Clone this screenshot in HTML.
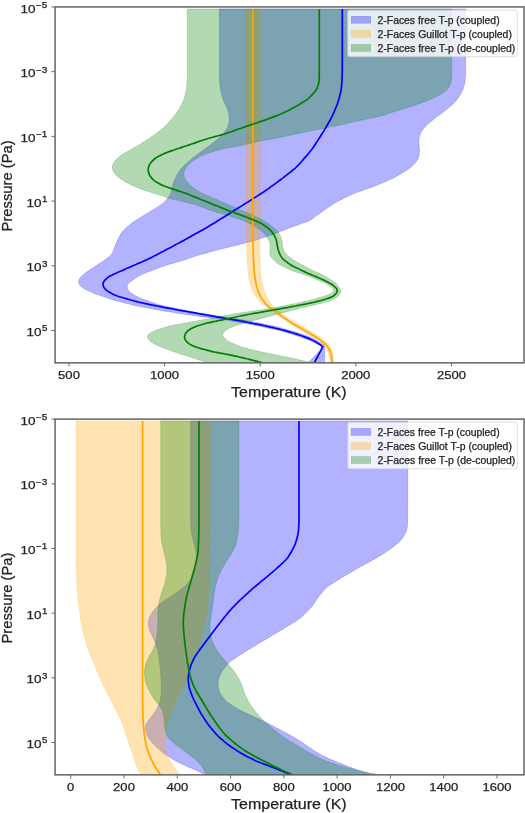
<!DOCTYPE html>
<html><head><meta charset="utf-8"><title>T-p profiles</title>
<style>
html,body{margin:0;padding:0;background:#ffffff;}
body{width:525px;height:813px;overflow:hidden;font-family:"Liberation Sans",sans-serif;}
svg{display:block;}
svg text{font-family:"Liberation Sans",sans-serif;fill:#222222;stroke:#222222;stroke-width:0.25px;}
.tx{filter:blur(0.3px);}
</style></head>
<body>
<svg width="525" height="813" viewBox="0 0 525 813">
<rect x="0" y="0" width="525" height="813" fill="#ffffff"/>
<clipPath id="ct"><rect x="55.05" y="6.95" width="469.00" height="355.90"/></clipPath>
<g clip-path="url(#ct)">
<path d="M219.3,9.0 C219.3,9.6 219.3,11.3 219.3,12.5 C219.3,13.7 219.3,14.8 219.3,16.0 C219.3,17.2 219.3,18.3 219.3,19.5 C219.3,20.7 219.3,21.8 219.3,23.0 C219.3,24.2 219.3,25.3 219.3,26.5 C219.3,27.7 219.3,28.9 219.3,30.0 C219.3,31.2 219.3,32.4 219.3,33.5 C219.3,34.7 219.3,35.8 219.3,37.0 C219.3,38.3 219.3,39.8 219.3,41.0 C219.3,42.3 219.3,43.4 219.3,44.5 C219.3,45.7 219.3,46.9 219.3,48.0 C219.3,49.2 219.3,50.4 219.3,51.5 C219.3,52.7 219.3,53.9 219.3,55.0 C219.3,56.2 219.3,57.4 219.3,58.5 C219.3,59.7 219.3,60.9 219.3,62.0 C219.3,63.2 219.3,64.4 219.3,65.5 C219.3,66.7 219.3,67.9 219.3,69.1 C219.3,70.2 219.3,71.4 219.3,72.6 C219.3,73.7 219.3,74.9 219.3,76.1 C219.3,77.2 219.4,78.4 219.4,79.6 C219.5,80.7 219.6,81.9 219.7,83.0 C219.8,84.2 219.9,85.4 220.1,86.5 C220.3,87.7 220.4,88.8 220.6,90.0 C220.9,91.1 221.1,92.3 221.4,93.4 C221.6,94.5 221.9,95.6 222.3,96.8 C222.6,98.0 223.1,99.4 223.5,100.5 C224.0,101.7 224.5,102.7 225.0,103.7 C225.4,104.8 226.0,105.8 226.5,106.9 C226.9,107.9 227.4,109.0 227.7,110.1 C228.1,111.2 228.4,112.3 228.6,113.5 C228.8,114.6 229.0,115.8 229.1,116.9 C229.2,118.1 229.3,119.2 229.2,120.4 C229.1,121.5 228.9,122.6 228.7,123.7 C228.4,124.9 228.0,125.9 227.5,127.0 C227.1,128.0 226.5,129.0 225.9,130.0 C225.2,131.0 224.6,131.9 223.8,132.8 C223.1,133.8 222.4,134.7 221.6,135.5 C220.8,136.4 220.0,137.1 219.1,137.9 C218.2,138.7 217.3,139.4 216.4,140.1 C215.5,140.9 214.6,141.6 213.7,142.3 C212.7,143.0 211.8,143.8 210.9,144.5 C210.0,145.2 209.1,145.8 208.1,146.6 C207.1,147.3 205.9,148.2 204.9,148.9 C203.8,149.7 203.0,150.3 202.0,151.0 C201.1,151.7 200.1,152.4 199.2,153.0 C198.3,153.7 197.3,154.5 196.4,155.2 C195.5,155.9 194.6,156.6 193.6,157.3 C192.7,158.0 191.8,158.8 190.9,159.5 C190.0,160.3 189.1,161.0 188.3,161.8 C187.4,162.6 186.5,163.3 185.7,164.1 C184.8,164.9 184.0,165.7 183.2,166.6 C182.4,167.4 181.6,168.3 180.9,169.2 C180.1,170.1 179.4,171.0 178.7,172.0 C178.1,172.9 177.5,173.9 176.9,174.9 C176.3,175.9 175.8,177.0 175.4,178.1 C174.9,179.1 174.4,180.2 174.0,181.3 C173.6,182.4 173.3,183.5 173.0,184.6 C172.6,185.7 172.4,186.9 172.1,188.0 C171.8,189.1 171.7,190.2 171.4,191.4 C171.0,192.5 170.5,193.9 170.0,194.9 C169.4,196.0 168.7,196.8 168.0,197.7 C167.3,198.6 166.5,199.5 165.7,200.4 C164.9,201.2 164.1,202.1 163.3,202.9 C162.4,203.6 161.5,204.3 160.5,205.0 C159.6,205.7 158.6,206.3 157.6,206.9 C156.6,207.5 155.6,208.1 154.6,208.8 C153.7,209.4 152.7,210.0 151.7,210.6 C150.7,211.2 149.7,211.9 148.7,212.5 C147.7,213.1 146.7,213.7 145.7,214.3 C144.7,214.9 143.7,215.5 142.7,216.1 C141.7,216.7 140.7,217.3 139.7,217.9 C138.7,218.5 137.7,219.1 136.7,219.7 C135.7,220.3 134.7,220.9 133.8,221.6 C132.8,222.3 131.9,223.0 131.0,223.7 C130.1,224.5 129.2,225.2 128.3,226.0 C127.4,226.7 126.6,227.4 125.7,228.3 C124.8,229.1 123.7,230.1 122.9,231.1 C122.0,232.0 121.4,232.9 120.8,233.8 C120.2,234.8 119.7,235.8 119.2,236.9 C118.6,237.9 118.1,239.0 117.6,240.0 C117.1,241.1 116.6,242.1 116.2,243.2 C115.7,244.3 115.3,245.4 114.9,246.5 C114.4,247.5 114.1,248.7 113.6,249.7 C113.2,250.8 112.8,251.9 112.2,252.9 C111.7,253.8 111.0,254.8 110.3,255.6 C109.5,256.4 108.6,257.1 107.7,257.8 C106.8,258.5 105.8,259.2 104.8,259.9 C103.9,260.5 102.9,261.2 102.0,261.9 C101.0,262.5 100.1,263.2 99.1,263.8 C98.1,264.5 97.1,265.1 96.1,265.7 C95.2,266.4 94.2,267.0 93.2,267.6 C92.2,268.2 91.2,268.8 90.2,269.5 C89.3,270.1 88.3,270.7 87.3,271.5 C86.3,272.2 85.2,273.1 84.2,273.9 C83.3,274.7 82.4,275.5 81.6,276.2 C80.8,277.0 79.9,277.8 79.4,278.7 C78.9,279.5 78.5,280.4 78.5,281.4 C78.5,282.3 78.9,283.4 79.4,284.3 C79.8,285.2 80.6,286.1 81.4,286.8 C82.2,287.6 83.2,288.1 84.2,288.7 C85.1,289.3 86.2,289.8 87.3,290.3 C88.3,290.8 89.4,291.3 90.4,291.8 C91.5,292.3 92.5,292.8 93.6,293.2 C94.7,293.7 95.8,294.1 96.9,294.5 C98.0,294.9 99.1,295.2 100.2,295.6 C101.3,296.0 102.4,296.4 103.5,296.7 C104.6,297.1 105.7,297.5 106.8,297.8 C107.9,298.2 109.0,298.6 110.2,298.9 C111.3,299.3 112.4,299.6 113.5,300.0 C114.6,300.3 115.7,300.6 116.9,300.9 C118.1,301.2 119.5,301.6 120.8,301.9 C122.0,302.2 123.0,302.5 124.1,302.8 C125.3,303.1 126.4,303.4 127.5,303.7 C128.7,303.9 129.8,304.2 130.9,304.5 C132.1,304.8 133.2,305.1 134.3,305.4 C135.5,305.6 136.6,305.9 137.7,306.1 C138.9,306.4 140.0,306.6 141.2,306.8 C142.3,307.1 143.5,307.3 144.6,307.5 C145.8,307.7 146.9,307.9 148.1,308.1 C149.2,308.4 150.4,308.6 151.5,308.8 C152.7,309.0 153.8,309.2 154.9,309.4 C156.1,309.6 157.2,309.9 158.4,310.1 C159.5,310.3 160.7,310.5 161.8,310.7 C163.0,310.9 164.1,311.1 165.3,311.3 C166.4,311.5 167.6,311.6 168.8,311.8 C169.9,312.0 171.1,312.2 172.2,312.3 C173.4,312.5 174.4,312.7 175.7,312.9 C176.9,313.0 178.4,313.3 179.6,313.4 C180.9,313.6 181.9,313.8 183.1,314.0 C184.3,314.1 185.4,314.3 186.6,314.5 C187.7,314.7 188.9,314.8 190.0,315.0 C191.2,315.2 192.3,315.3 193.5,315.5 C194.7,315.6 195.8,315.8 197.0,316.0 C198.1,316.1 199.3,316.3 200.4,316.4 C201.6,316.6 202.8,316.7 203.9,316.9 C205.1,317.1 206.2,317.2 207.4,317.4 C208.5,317.5 209.7,317.7 210.9,317.9 C212.0,318.0 213.2,318.2 214.3,318.3 C215.5,318.5 216.6,318.7 217.8,318.8 C219.0,319.0 220.1,319.1 221.3,319.3 C222.4,319.5 223.6,319.6 224.7,319.8 C225.9,320.0 227.0,320.2 228.2,320.4 C229.3,320.6 230.5,320.8 231.6,321.0 C232.8,321.2 233.9,321.4 235.1,321.6 C236.3,321.8 237.8,322.1 239.0,322.3 C240.3,322.6 241.3,322.8 242.5,323.0 C243.6,323.2 244.8,323.4 245.9,323.6 C247.1,323.8 248.2,324.1 249.3,324.3 C250.5,324.5 251.6,324.7 252.8,324.9 C253.9,325.1 255.1,325.4 256.2,325.6 C257.4,325.8 258.5,326.0 259.7,326.3 C260.8,326.5 262.0,326.7 263.1,327.0 C264.2,327.2 265.4,327.5 266.5,327.7 C267.7,328.0 268.8,328.2 269.9,328.5 C271.1,328.7 272.2,329.0 273.4,329.2 C274.5,329.5 275.6,329.7 276.8,330.0 C277.9,330.3 279.1,330.5 280.2,330.8 C281.3,331.1 282.4,331.4 283.6,331.8 C284.7,332.1 285.8,332.4 286.9,332.7 C288.0,333.1 289.2,333.4 290.3,333.7 C291.4,334.1 292.4,334.4 293.6,334.7 C294.8,335.1 296.3,335.5 297.4,335.9 C298.6,336.3 299.6,336.7 300.7,337.1 C301.8,337.5 302.9,337.9 304.0,338.4 C305.1,338.8 306.2,339.2 307.3,339.6 C308.4,340.0 309.5,340.5 310.5,340.9 C311.6,341.4 312.6,341.9 313.7,342.4 C314.7,342.9 315.8,343.5 316.8,344.0 C317.9,344.5 318.9,345.0 320.0,345.4 C321.1,345.8 325.3,343.7 323.3,346.6 C321.3,349.5 310.6,360.3 308.0,363.0 L324.6,363.0 C324.6,360.2 325.0,349.5 324.5,346.4 C324.0,343.3 322.8,344.8 321.9,344.1 C321.0,343.4 320.0,342.7 319.0,342.1 C318.1,341.4 317.1,340.8 316.1,340.2 C315.1,339.6 314.1,339.0 313.0,338.5 C312.0,338.0 310.9,337.5 309.9,337.1 C308.8,336.6 307.7,336.2 306.6,335.8 C305.5,335.4 304.4,335.0 303.3,334.6 C302.2,334.2 301.1,333.8 300.0,333.4 C298.9,333.1 297.8,332.7 296.7,332.3 C295.6,332.0 294.5,331.6 293.3,331.3 C292.2,331.0 291.1,330.7 290.0,330.3 C288.8,330.0 287.7,329.7 286.6,329.4 C285.5,329.1 284.4,328.7 283.2,328.4 C282.1,328.1 281.1,327.8 279.8,327.5 C278.6,327.2 277.2,326.9 276.0,326.6 C274.7,326.3 273.7,326.1 272.5,325.8 C271.4,325.6 270.3,325.3 269.1,325.1 C268.0,324.8 266.8,324.5 265.7,324.3 C264.6,324.0 263.4,323.8 262.3,323.5 C261.1,323.3 260.0,323.0 258.9,322.8 C257.7,322.6 256.6,322.4 255.4,322.2 C254.3,321.9 253.1,321.7 252.0,321.5 C250.8,321.3 249.7,321.1 248.5,320.9 C247.4,320.7 246.2,320.5 245.1,320.2 C243.9,320.0 242.8,319.8 241.6,319.6 C240.5,319.4 239.3,319.3 238.2,319.1 C237.0,318.9 235.9,318.8 234.7,318.6 C233.5,318.4 232.4,318.3 231.2,318.1 C230.1,318.0 228.9,317.8 227.8,317.7 C226.6,317.5 225.5,317.3 224.3,317.1 C223.1,316.9 222.0,316.7 220.8,316.5 C219.7,316.3 218.6,316.1 217.4,315.9 C216.3,315.7 215.1,315.5 214.0,315.3 C212.8,315.1 211.7,314.9 210.5,314.7 C209.4,314.5 208.2,314.3 207.1,314.1 C205.9,313.9 204.8,313.7 203.6,313.5 C202.5,313.3 201.3,313.1 200.2,312.9 C199.0,312.7 197.9,312.5 196.7,312.3 C195.6,312.1 194.4,311.9 193.2,311.7 C192.1,311.5 190.9,311.3 189.8,311.1 C188.6,310.9 187.5,310.7 186.3,310.5 C185.2,310.3 184.1,310.1 182.9,309.9 C181.7,309.6 180.2,309.3 179.0,309.1 C177.8,308.8 176.7,308.6 175.6,308.3 C174.4,308.1 173.3,307.8 172.1,307.6 C171.0,307.4 169.8,307.1 168.7,306.9 C167.6,306.6 166.4,306.4 165.3,306.1 C164.1,305.9 163.0,305.6 161.9,305.3 C160.7,305.1 159.6,304.8 158.5,304.4 C157.4,304.1 156.3,303.7 155.2,303.4 C154.0,303.0 152.9,302.6 151.8,302.3 C150.7,301.9 149.6,301.5 148.5,301.2 C147.4,300.8 146.3,300.4 145.2,300.0 C144.1,299.6 143.0,299.3 141.9,298.8 C140.8,298.4 139.8,298.0 138.7,297.4 C137.7,296.9 136.6,296.4 135.6,295.8 C134.6,295.3 133.6,294.7 132.6,294.1 C131.6,293.5 130.6,292.9 129.9,292.1 C129.1,291.3 128.4,290.5 127.9,289.5 C127.5,288.6 127.1,287.5 127.2,286.6 C127.2,285.7 127.6,284.8 128.1,284.0 C128.7,283.2 129.7,282.5 130.5,281.8 C131.4,281.1 132.4,280.4 133.4,279.7 C134.3,279.1 135.2,278.4 136.2,277.7 C137.2,277.1 138.1,276.4 139.1,275.8 C140.1,275.3 141.2,274.7 142.2,274.3 C143.3,273.8 144.4,273.4 145.5,273.0 C146.6,272.5 147.7,272.1 148.8,271.7 C149.8,271.3 150.9,270.9 152.0,270.5 C153.1,270.1 154.2,269.7 155.3,269.3 C156.4,268.9 157.4,268.5 158.6,268.0 C159.8,267.6 161.2,267.1 162.3,266.6 C163.5,266.2 164.5,265.8 165.6,265.5 C166.7,265.1 167.9,264.7 169.0,264.4 C170.1,264.1 171.2,263.8 172.3,263.4 C173.5,263.1 174.6,262.8 175.7,262.5 C176.8,262.2 178.0,261.9 179.1,261.5 C180.2,261.2 181.3,260.8 182.4,260.5 C183.5,260.1 184.6,259.8 185.8,259.4 C186.9,259.0 188.0,258.7 189.1,258.3 C190.2,257.9 191.3,257.6 192.4,257.2 C193.5,256.9 194.6,256.5 195.7,256.1 C196.9,255.8 198.0,255.4 199.1,255.1 C200.2,254.8 201.3,254.4 202.5,254.1 C203.6,253.8 204.7,253.5 205.8,253.2 C206.9,252.8 208.1,252.5 209.2,252.2 C210.3,251.9 211.4,251.5 212.6,251.2 C213.7,250.9 214.8,250.6 215.9,250.3 C217.1,250.0 218.2,249.7 219.3,249.5 C220.5,249.2 221.6,248.9 222.7,248.6 C223.9,248.3 225.0,248.1 226.1,247.8 C227.3,247.5 228.4,247.2 229.5,246.9 C230.7,246.6 231.8,246.4 232.9,246.1 C234.1,245.8 235.2,245.5 236.3,245.2 C237.5,245.0 238.6,244.7 239.7,244.4 C240.9,244.1 242.0,243.8 243.1,243.5 C244.3,243.2 245.4,243.0 246.5,242.7 C247.6,242.4 248.8,242.1 249.9,241.8 C251.0,241.5 252.2,241.2 253.3,240.9 C254.4,240.6 255.5,240.3 256.6,239.9 C257.8,239.5 259.3,239.0 260.5,238.6 C261.6,238.3 262.7,237.9 263.8,237.5 C264.9,237.2 266.0,236.8 267.1,236.4 C268.2,236.1 269.3,235.7 270.4,235.3 C271.5,234.9 272.6,234.6 273.7,234.2 C274.8,233.8 275.9,233.3 277.0,232.9 C278.1,232.5 279.2,232.0 280.2,231.6 C281.3,231.2 282.4,230.7 283.5,230.3 C284.6,229.9 285.7,229.4 286.7,229.0 C287.8,228.6 288.9,228.1 290.0,227.7 C291.1,227.3 292.2,226.9 293.3,226.5 C294.4,226.1 295.5,225.7 296.6,225.4 C297.7,225.0 298.8,224.6 299.9,224.3 C301.0,223.9 302.1,223.5 303.2,223.1 C304.3,222.8 305.5,222.4 306.5,222.0 C307.6,221.6 308.7,221.1 309.7,220.6 C310.7,220.0 311.7,219.4 312.6,218.7 C313.6,218.1 314.5,217.3 315.4,216.6 C316.3,215.9 317.2,215.2 318.2,214.5 C319.1,213.8 320.0,213.1 321.0,212.4 C321.9,211.7 322.9,211.0 323.8,210.4 C324.8,209.7 325.7,209.0 326.7,208.4 C327.7,207.7 328.6,207.0 329.6,206.4 C330.6,205.7 331.5,205.1 332.5,204.5 C333.5,203.8 334.5,203.3 335.5,202.7 C336.6,202.1 337.6,201.6 338.6,201.0 C339.7,200.5 340.7,199.9 341.7,199.4 C342.7,198.8 343.7,198.3 344.8,197.7 C345.9,197.2 347.3,196.5 348.4,195.9 C349.5,195.4 350.5,195.0 351.6,194.5 C352.7,194.1 353.7,193.7 354.8,193.3 C355.9,192.9 357.0,192.5 358.1,192.1 C359.2,191.7 360.3,191.3 361.4,190.9 C362.5,190.5 363.6,190.1 364.7,189.7 C365.8,189.4 366.9,189.0 368.0,188.6 C369.1,188.2 370.2,187.8 371.3,187.4 C372.4,187.0 373.5,186.5 374.6,186.1 C375.7,185.7 376.8,185.2 377.8,184.8 C378.9,184.3 380.0,183.9 381.1,183.4 C382.1,183.0 383.2,182.5 384.3,182.1 C385.4,181.6 386.5,181.2 387.5,180.7 C388.6,180.3 389.7,179.8 390.7,179.3 C391.8,178.8 392.9,178.3 393.9,177.8 C394.9,177.3 395.9,176.7 396.9,176.1 C397.9,175.5 398.9,174.9 400.0,174.3 C401.0,173.7 402.0,173.1 403.0,172.5 C404.0,171.9 405.0,171.3 406.0,170.7 C406.9,170.1 407.9,169.5 408.9,168.8 C409.8,168.1 410.7,167.4 411.6,166.6 C412.4,165.8 413.3,165.0 414.1,164.2 C414.9,163.4 415.7,162.5 416.4,161.6 C417.1,160.7 417.6,159.8 418.1,158.7 C418.5,157.7 418.8,156.6 419.0,155.5 C419.2,154.4 419.4,153.2 419.5,152.0 C419.6,150.9 419.6,149.7 419.5,148.6 C419.4,147.5 419.2,146.3 419.1,145.2 C418.9,144.0 418.8,143.0 418.8,141.7 C418.8,140.5 419.0,139.0 419.2,137.8 C419.4,136.6 419.7,135.6 420.1,134.5 C420.5,133.4 421.0,132.4 421.6,131.4 C422.2,130.5 422.9,129.5 423.6,128.6 C424.3,127.7 425.1,126.8 425.9,126.0 C426.7,125.1 427.5,124.4 428.4,123.6 C429.3,122.8 430.2,122.1 431.1,121.4 C432.0,120.6 432.9,119.9 433.8,119.2 C434.8,118.5 435.7,117.8 436.6,117.1 C437.5,116.4 438.5,115.7 439.4,115.0 C440.3,114.2 441.3,113.6 442.2,112.9 C443.1,112.1 444.1,111.4 445.0,110.7 C445.9,110.0 446.8,109.3 447.7,108.5 C448.6,107.8 449.5,107.0 450.4,106.2 C451.2,105.4 452.1,104.7 453.0,103.9 C453.8,103.1 454.6,102.3 455.4,101.4 C456.2,100.6 456.9,99.7 457.6,98.7 C458.3,97.8 459.0,96.8 459.6,95.8 C460.2,94.9 460.8,93.9 461.4,92.8 C461.9,91.8 462.4,90.7 462.8,89.7 C463.2,88.6 463.6,87.5 463.9,86.4 C464.3,85.3 464.5,84.1 464.7,83.0 C465.0,81.9 465.1,80.7 465.2,79.5 C465.4,78.4 465.4,77.2 465.5,76.0 C465.6,74.9 465.6,73.7 465.6,72.5 C465.7,71.4 465.7,70.2 465.7,69.0 C465.7,67.9 465.7,66.7 465.7,65.5 C465.7,64.4 465.7,63.3 465.7,62.0 C465.7,60.8 465.7,59.3 465.7,58.0 C465.7,56.8 465.7,55.7 465.7,54.5 C465.7,53.4 465.7,52.2 465.7,51.0 C465.7,49.9 465.7,48.7 465.7,47.5 C465.7,46.4 465.7,45.2 465.7,44.0 C465.7,42.9 465.7,41.7 465.7,40.5 C465.7,39.4 465.7,38.2 465.7,37.0 C465.7,35.9 465.7,34.7 465.7,33.5 C465.7,32.4 465.7,31.2 465.7,30.0 C465.7,28.8 465.7,27.7 465.7,26.5 C465.7,25.3 465.7,24.2 465.7,23.0 C465.7,21.8 465.7,20.7 465.7,19.5 C465.7,18.3 465.7,17.2 465.7,16.0 C465.7,14.8 465.7,13.7 465.7,12.5 C465.7,11.3 465.7,9.6 465.7,9.0 Z" fill="#0000ff" fill-opacity="0.3" fill-rule="evenodd" stroke="#0000ff" stroke-opacity="0.3" stroke-width="0.6"/>
<path d="M246.3,9.0 C246.3,9.6 246.3,11.3 246.3,12.5 C246.3,13.7 246.3,14.8 246.3,16.0 C246.3,17.2 246.3,18.4 246.3,19.5 C246.3,20.7 246.3,21.9 246.3,23.0 C246.3,24.2 246.3,25.4 246.3,26.5 C246.3,27.7 246.3,28.9 246.3,30.1 C246.3,31.2 246.3,32.3 246.3,33.6 C246.3,34.8 246.3,36.3 246.3,37.6 C246.3,38.8 246.3,39.9 246.3,41.1 C246.3,42.2 246.3,43.4 246.3,44.6 C246.3,45.8 246.3,46.9 246.3,48.1 C246.3,49.3 246.3,50.4 246.3,51.6 C246.3,52.8 246.3,53.9 246.3,55.1 C246.3,56.3 246.3,57.5 246.3,58.6 C246.3,59.8 246.3,61.0 246.3,62.1 C246.3,63.3 246.3,64.5 246.3,65.6 C246.3,66.8 246.3,68.0 246.3,69.1 C246.3,70.3 246.3,71.5 246.3,72.7 C246.3,73.8 246.3,75.0 246.3,76.2 C246.3,77.3 246.3,78.5 246.3,79.7 C246.3,80.8 246.3,82.0 246.3,83.2 C246.3,84.3 246.3,85.5 246.3,86.7 C246.3,87.9 246.3,88.9 246.3,90.2 C246.3,91.5 246.3,93.0 246.3,94.2 C246.3,95.5 246.3,96.5 246.3,97.7 C246.3,98.9 246.3,100.1 246.3,101.2 C246.3,102.4 246.3,103.6 246.3,104.7 C246.3,105.9 246.3,107.1 246.3,108.2 C246.3,109.4 246.3,110.6 246.3,111.7 C246.3,112.9 246.3,114.1 246.3,115.3 C246.3,116.4 246.3,117.6 246.3,118.8 C246.3,119.9 246.3,121.1 246.3,122.3 C246.3,123.4 246.3,124.6 246.3,125.8 C246.3,127.0 246.3,128.1 246.3,129.3 C246.3,130.5 246.3,131.6 246.3,132.8 C246.3,134.0 246.4,135.1 246.4,136.3 C246.4,137.5 246.4,138.6 246.4,139.8 C246.4,141.0 246.4,142.2 246.4,143.3 C246.4,144.5 246.4,145.6 246.4,146.8 C246.4,148.1 246.4,149.6 246.4,150.8 C246.4,152.1 246.4,153.2 246.4,154.4 C246.4,155.5 246.4,156.7 246.4,157.9 C246.4,159.0 246.4,160.2 246.4,161.4 C246.4,162.5 246.4,163.7 246.4,164.9 C246.4,166.0 246.4,167.2 246.4,168.4 C246.4,169.6 246.4,170.7 246.4,171.9 C246.4,173.1 246.4,174.2 246.4,175.4 C246.4,176.6 246.4,177.7 246.4,178.9 C246.4,180.1 246.4,181.3 246.4,182.4 C246.4,183.6 246.4,184.8 246.4,185.9 C246.4,187.1 246.4,188.3 246.4,189.4 C246.4,190.6 246.4,191.8 246.4,192.9 C246.4,194.1 246.4,195.3 246.4,196.5 C246.4,197.6 246.4,198.8 246.4,200.0 C246.4,201.1 246.4,202.2 246.4,203.5 C246.4,204.7 246.5,206.2 246.5,207.5 C246.5,208.7 246.5,209.8 246.5,211.0 C246.5,212.2 246.5,213.3 246.5,214.5 C246.5,215.7 246.5,216.8 246.5,218.0 C246.5,219.2 246.5,220.3 246.5,221.5 C246.5,222.7 246.5,223.9 246.5,225.0 C246.5,226.2 246.5,227.4 246.5,228.5 C246.5,229.7 246.5,230.9 246.5,232.0 C246.5,233.2 246.5,234.4 246.5,235.5 C246.5,236.7 246.5,237.9 246.5,239.1 C246.5,240.2 246.5,241.4 246.6,242.6 C246.6,243.7 246.6,244.9 246.6,246.1 C246.7,247.2 246.7,248.4 246.7,249.6 C246.8,250.8 246.8,251.9 246.8,253.1 C246.9,254.3 246.9,255.4 247.0,256.6 C247.1,257.8 247.1,258.8 247.2,260.1 C247.2,261.3 247.3,262.8 247.4,264.1 C247.5,265.4 247.5,266.4 247.6,267.6 C247.7,268.8 247.8,269.9 247.9,271.1 C248.0,272.3 248.1,273.4 248.2,274.6 C248.4,275.7 248.5,276.9 248.8,278.0 C249.0,279.2 249.3,280.3 249.5,281.5 C249.8,282.6 250.1,283.7 250.4,284.9 C250.7,286.0 251.0,287.1 251.4,288.2 C251.8,289.3 252.2,290.3 252.8,291.4 C253.3,292.4 253.9,293.4 254.5,294.4 C255.1,295.4 255.7,296.4 256.4,297.3 C257.1,298.3 257.7,299.2 258.5,300.1 C259.3,301.0 260.1,301.8 261.0,302.5 C261.8,303.3 262.8,304.0 263.7,304.7 C264.6,305.5 265.5,306.2 266.5,306.8 C267.4,307.5 268.3,308.1 269.4,308.8 C270.4,309.5 271.7,310.3 272.8,310.9 C273.8,311.6 274.7,312.2 275.7,312.9 C276.7,313.6 277.6,314.2 278.5,314.9 C279.5,315.6 280.4,316.3 281.4,317.0 C282.3,317.7 283.2,318.5 284.1,319.2 C285.0,319.9 285.9,320.7 286.9,321.4 C287.8,322.1 288.7,322.8 289.7,323.5 C290.6,324.1 291.6,324.8 292.6,325.4 C293.6,326.0 294.6,326.6 295.6,327.2 C296.6,327.8 297.6,328.4 298.6,329.0 C299.6,329.6 300.6,330.2 301.6,330.8 C302.6,331.4 303.6,332.0 304.6,332.6 C305.6,333.2 306.6,333.8 307.6,334.4 C308.6,335.0 309.6,335.6 310.6,336.2 C311.6,336.8 312.6,337.4 313.6,338.1 C314.6,338.7 315.5,339.2 316.6,340.0 C317.6,340.7 318.8,341.5 319.8,342.3 C320.8,343.1 321.7,343.7 322.6,344.5 C323.4,345.2 324.3,346.0 325.1,346.8 C325.8,347.7 326.5,348.6 327.1,349.6 C327.7,350.6 328.2,351.7 328.6,352.7 C328.9,353.8 329.2,354.9 329.4,356.1 C329.7,357.2 329.8,358.4 329.9,359.5 C330.1,360.7 330.2,362.4 330.3,363.0 L334.0,363.0 C333.9,362.4 333.8,360.7 333.7,359.5 C333.6,358.3 333.5,357.2 333.3,356.0 C333.2,354.9 333.0,353.7 332.7,352.6 C332.4,351.5 332.1,350.5 331.6,349.4 C331.1,348.2 330.4,346.9 329.7,345.9 C329.1,344.8 328.4,344.0 327.6,343.2 C326.8,342.3 325.9,341.6 325.0,340.9 C324.1,340.1 323.2,339.4 322.3,338.7 C321.4,338.0 320.4,337.3 319.5,336.6 C318.5,335.9 317.5,335.3 316.5,334.7 C315.5,334.1 314.5,333.5 313.5,332.9 C312.5,332.3 311.5,331.7 310.5,331.1 C309.5,330.6 308.5,330.0 307.5,329.4 C306.4,328.8 305.5,328.2 304.4,327.6 C303.4,326.9 302.1,326.2 301.0,325.5 C299.9,324.9 299.0,324.3 298.0,323.7 C297.0,323.1 296.0,322.5 295.0,321.9 C294.0,321.3 293.0,320.7 292.0,320.1 C291.0,319.5 290.0,318.9 289.0,318.2 C288.0,317.6 287.0,317.0 286.1,316.3 C285.1,315.7 284.1,315.1 283.1,314.4 C282.1,313.8 281.1,313.2 280.2,312.5 C279.2,311.9 278.2,311.2 277.3,310.5 C276.4,309.8 275.6,309.1 274.7,308.2 C273.8,307.3 272.8,306.2 272.1,305.2 C271.3,304.3 270.7,303.4 270.1,302.4 C269.5,301.4 268.9,300.4 268.3,299.3 C267.8,298.3 267.2,297.3 266.7,296.2 C266.2,295.2 265.8,294.1 265.3,293.0 C264.9,291.9 264.4,290.9 264.1,289.8 C263.7,288.7 263.3,287.6 263.0,286.4 C262.7,285.3 262.5,284.2 262.2,283.0 C262.0,281.9 261.8,280.7 261.6,279.6 C261.4,278.4 261.2,277.4 261.1,276.1 C260.9,274.9 260.8,273.4 260.7,272.1 C260.6,270.9 260.5,269.8 260.5,268.6 C260.4,267.5 260.3,266.3 260.2,265.1 C260.2,264.0 260.1,262.8 260.1,261.6 C260.0,260.4 260.0,259.3 259.9,258.1 C259.9,256.9 259.9,255.8 259.8,254.6 C259.8,253.4 259.8,252.3 259.8,251.1 C259.8,249.9 259.8,248.8 259.8,247.6 C259.8,246.4 259.8,245.2 259.9,244.1 C259.9,242.9 259.9,241.8 260.0,240.6 C260.0,239.3 260.0,237.8 260.0,236.6 C260.0,235.3 260.0,234.2 260.0,233.1 C260.0,231.9 260.0,230.7 260.0,229.5 C260.0,228.4 260.0,227.2 260.0,226.0 C260.0,224.9 260.0,223.7 260.0,222.5 C260.0,221.4 260.0,220.2 260.0,219.0 C260.0,217.9 260.0,216.7 260.1,215.5 C260.1,214.3 260.1,213.2 260.1,212.0 C260.1,210.8 260.1,209.7 260.1,208.5 C260.1,207.3 260.1,206.2 260.1,205.0 C260.1,203.7 260.1,202.2 260.1,201.0 C260.1,199.7 260.1,198.6 260.1,197.5 C260.1,196.3 260.1,195.1 260.1,194.0 C260.1,192.8 260.1,191.6 260.1,190.4 C260.1,189.3 260.1,188.1 260.1,186.9 C260.1,185.8 260.1,184.6 260.1,183.4 C260.1,182.3 260.1,181.1 260.1,179.9 C260.1,178.8 260.1,177.6 260.1,176.4 C260.1,175.2 260.1,174.1 260.1,172.9 C260.1,171.7 260.1,170.7 260.2,169.4 C260.2,168.1 260.2,166.6 260.2,165.4 C260.2,164.1 260.2,163.0 260.2,161.9 C260.2,160.7 260.2,159.5 260.2,158.4 C260.2,157.2 260.2,156.0 260.2,154.9 C260.2,153.7 260.2,152.5 260.2,151.4 C260.2,150.2 260.2,149.0 260.2,147.8 C260.2,146.7 260.2,145.5 260.2,144.3 C260.2,143.2 260.2,142.0 260.2,140.8 C260.2,139.7 260.2,138.5 260.2,137.3 C260.2,136.1 260.2,135.1 260.2,133.8 C260.2,132.6 260.2,131.1 260.2,129.8 C260.2,128.5 260.2,127.5 260.2,126.3 C260.2,125.1 260.2,124.0 260.3,122.8 C260.3,121.6 260.3,120.4 260.3,119.3 C260.3,118.1 260.3,116.9 260.3,115.8 C260.3,114.6 260.3,113.4 260.3,112.3 C260.3,111.1 260.3,109.9 260.3,108.7 C260.3,107.6 260.3,106.4 260.3,105.2 C260.3,104.1 260.3,102.9 260.3,101.7 C260.3,100.6 260.3,99.5 260.3,98.2 C260.3,97.0 260.3,95.5 260.3,94.2 C260.3,93.0 260.3,91.9 260.3,90.7 C260.3,89.5 260.3,88.4 260.3,87.2 C260.3,86.0 260.3,84.9 260.3,83.7 C260.3,82.5 260.3,81.3 260.3,80.2 C260.3,79.0 260.3,77.8 260.3,76.7 C260.3,75.5 260.3,74.3 260.3,73.2 C260.3,72.0 260.3,70.8 260.3,69.7 C260.3,68.5 260.3,67.3 260.3,66.1 C260.3,65.0 260.3,63.9 260.3,62.6 C260.3,61.4 260.3,59.9 260.3,58.6 C260.3,57.4 260.3,56.3 260.3,55.1 C260.3,53.9 260.3,52.8 260.3,51.6 C260.3,50.4 260.3,49.3 260.3,48.1 C260.3,46.9 260.3,45.8 260.3,44.6 C260.3,43.4 260.3,42.2 260.3,41.1 C260.3,39.9 260.3,38.7 260.3,37.6 C260.3,36.4 260.3,35.2 260.3,34.1 C260.3,32.9 260.3,31.7 260.3,30.6 C260.3,29.4 260.3,28.3 260.3,27.0 C260.3,25.8 260.3,24.3 260.3,23.0 C260.3,21.8 260.3,20.7 260.3,19.5 C260.3,18.4 260.3,17.2 260.3,16.0 C260.3,14.8 260.3,13.7 260.3,12.5 C260.3,11.3 260.3,9.6 260.3,9.0 Z" fill="#ffa500" fill-opacity="0.3" fill-rule="evenodd" stroke="#ffa500" stroke-opacity="0.3" stroke-width="0.6"/>
<path d="M187.3,9.0 C187.3,9.6 187.3,11.3 187.3,12.5 C187.3,13.7 187.3,14.8 187.3,16.0 C187.3,17.2 187.3,18.3 187.3,19.5 C187.3,20.7 187.3,21.8 187.3,23.0 C187.3,24.2 187.3,25.3 187.3,26.5 C187.3,27.7 187.3,28.9 187.3,30.0 C187.3,31.2 187.3,32.4 187.3,33.5 C187.3,34.7 187.3,35.9 187.3,37.0 C187.3,38.2 187.3,39.4 187.3,40.5 C187.3,41.7 187.3,42.9 187.3,44.0 C187.3,45.2 187.3,46.4 187.3,47.5 C187.3,48.7 187.3,49.8 187.3,51.0 C187.3,52.3 187.3,53.8 187.3,55.0 C187.3,56.3 187.3,57.4 187.3,58.5 C187.3,59.7 187.3,60.9 187.3,62.1 C187.3,63.2 187.3,64.4 187.3,65.6 C187.3,66.7 187.3,67.9 187.3,69.1 C187.3,70.2 187.3,71.4 187.3,72.6 C187.3,73.7 187.3,74.9 187.3,76.1 C187.3,77.2 187.3,78.4 187.2,79.6 C187.2,80.7 187.1,81.9 187.0,83.1 C186.9,84.2 186.8,85.4 186.6,86.5 C186.5,87.7 186.4,88.9 186.2,90.0 C186.0,91.2 185.7,92.3 185.4,93.4 C185.2,94.6 184.9,95.7 184.6,96.8 C184.3,97.9 184.0,99.1 183.6,100.2 C183.1,101.2 182.6,102.3 182.1,103.3 C181.6,104.4 181.1,105.4 180.5,106.4 C180.0,107.5 179.3,108.4 178.7,109.4 C178.1,110.4 177.4,111.3 176.7,112.3 C176.0,113.3 175.4,114.2 174.7,115.2 C174.0,116.1 173.3,117.0 172.5,117.9 C171.8,118.8 171.0,119.7 170.2,120.6 C169.5,121.4 168.7,122.3 167.9,123.2 C167.1,124.1 166.4,124.9 165.5,125.8 C164.7,126.6 163.9,127.4 163.0,128.1 C162.1,128.9 161.1,129.6 160.2,130.3 C159.3,131.0 158.5,131.7 157.5,132.5 C156.5,133.2 155.3,134.2 154.3,134.9 C153.3,135.6 152.4,136.2 151.4,136.8 C150.4,137.5 149.4,138.1 148.5,138.8 C147.5,139.4 146.5,140.1 145.5,140.7 C144.6,141.4 143.6,142.0 142.6,142.6 C141.6,143.2 140.6,143.8 139.6,144.4 C138.6,145.0 137.6,145.6 136.6,146.2 C135.5,146.7 134.5,147.3 133.5,147.9 C132.5,148.5 131.5,149.1 130.5,149.7 C129.5,150.3 128.5,150.9 127.5,151.5 C126.5,152.0 125.4,152.6 124.4,153.2 C123.4,153.8 122.4,154.4 121.5,155.1 C120.5,155.7 119.6,156.4 118.7,157.2 C117.8,157.9 116.9,158.7 116.1,159.5 C115.3,160.3 114.5,161.2 114.0,162.2 C113.4,163.1 112.8,164.2 112.6,165.3 C112.3,166.4 112.3,167.5 112.4,168.6 C112.6,169.7 112.9,170.8 113.5,171.8 C114.0,172.8 114.7,173.7 115.5,174.6 C116.2,175.4 117.1,176.2 118.0,177.0 C118.9,177.8 119.8,178.4 120.8,179.1 C121.7,179.8 122.7,180.3 123.7,180.9 C124.7,181.5 125.7,182.1 126.8,182.7 C127.8,183.3 128.8,183.8 129.9,184.3 C130.9,184.8 132.0,185.2 133.1,185.7 C134.1,186.2 135.1,186.6 136.3,187.1 C137.4,187.6 138.8,188.2 140.0,188.7 C141.1,189.1 142.1,189.5 143.2,189.9 C144.3,190.3 145.5,190.6 146.6,191.0 C147.7,191.3 148.8,191.7 149.9,192.0 C151.0,192.4 152.1,192.7 153.3,193.1 C154.4,193.4 155.5,193.8 156.6,194.1 C157.7,194.5 158.8,194.9 159.9,195.2 C161.0,195.6 162.1,196.0 163.3,196.3 C164.4,196.7 165.5,197.1 166.6,197.4 C167.7,197.8 168.8,198.1 169.9,198.4 C171.1,198.7 172.2,199.0 173.3,199.3 C174.5,199.5 175.6,199.8 176.7,200.1 C177.9,200.4 179.0,200.7 180.1,200.9 C181.3,201.2 182.4,201.5 183.5,201.8 C184.7,202.1 185.8,202.3 186.9,202.6 C188.1,202.9 189.2,203.2 190.3,203.5 C191.5,203.8 192.6,204.0 193.7,204.3 C194.9,204.7 196.0,205.0 197.1,205.4 C198.2,205.8 199.3,206.2 200.4,206.6 C201.5,207.0 202.5,207.4 203.6,207.8 C204.7,208.2 205.8,208.6 206.9,209.0 C208.0,209.5 209.1,209.9 210.2,210.3 C211.3,210.6 212.4,211.0 213.5,211.4 C214.7,211.7 215.8,212.0 216.9,212.4 C218.0,212.7 219.1,213.0 220.3,213.3 C221.4,213.7 222.4,214.0 223.6,214.3 C224.8,214.7 226.3,215.1 227.5,215.4 C228.7,215.8 229.7,216.1 230.8,216.4 C231.9,216.8 233.0,217.2 234.2,217.5 C235.3,217.9 236.4,218.3 237.5,218.6 C238.6,219.0 239.7,219.3 240.8,219.7 C241.9,220.1 243.0,220.5 244.1,220.9 C245.2,221.3 246.2,221.9 247.3,222.4 C248.3,222.9 249.4,223.4 250.4,223.9 C251.5,224.5 252.5,225.0 253.5,225.5 C254.6,226.1 255.6,226.6 256.6,227.2 C257.5,227.9 258.4,228.6 259.3,229.4 C260.2,230.1 261.1,230.9 262.0,231.7 C262.8,232.4 263.8,233.2 264.5,234.0 C265.3,234.9 266.0,235.8 266.6,236.8 C267.2,237.7 267.8,238.8 268.4,239.8 C268.9,240.8 269.5,241.8 269.8,242.9 C270.1,244.0 270.1,245.2 270.1,246.3 C270.1,247.4 270.0,248.6 269.9,249.8 C269.9,251.0 269.7,252.2 269.8,253.3 C269.9,254.4 270.2,255.4 270.7,256.4 C271.2,257.3 272.0,258.2 272.8,259.0 C273.6,259.9 274.4,260.8 275.2,261.6 C276.1,262.3 277.0,263.0 277.9,263.7 C278.9,264.3 280.0,264.9 281.0,265.4 C282.0,266.0 283.0,266.5 284.1,267.1 C285.1,267.6 286.0,268.2 287.2,268.7 C288.3,269.3 289.7,269.8 290.8,270.3 C292.0,270.7 293.0,271.0 294.1,271.4 C295.2,271.8 296.4,272.1 297.5,272.5 C298.6,272.9 299.7,273.2 300.8,273.6 C301.9,274.0 303.0,274.3 304.1,274.7 C305.2,275.0 306.3,275.4 307.5,275.8 C308.6,276.2 309.7,276.5 310.7,277.0 C311.8,277.4 312.9,277.8 314.0,278.3 C315.1,278.8 316.1,279.2 317.2,279.7 C318.3,280.1 319.4,280.6 320.4,281.0 C321.5,281.5 322.6,282.0 323.6,282.5 C324.7,283.0 325.7,283.5 326.7,284.1 C327.7,284.7 328.7,285.3 329.7,285.9 C330.6,286.6 331.8,287.2 332.4,288.0 C333.0,288.8 333.6,289.7 333.5,290.5 C333.4,291.4 332.6,292.3 331.8,293.0 C331.0,293.7 329.9,294.2 328.8,294.6 C327.8,295.1 326.6,295.3 325.5,295.7 C324.4,296.0 323.3,296.4 322.2,296.7 C321.0,297.1 319.9,297.4 318.8,297.7 C317.7,298.1 316.5,298.4 315.4,298.7 C314.3,299.0 313.2,299.2 312.0,299.5 C310.9,299.8 309.8,300.1 308.6,300.4 C307.5,300.7 306.4,301.0 305.2,301.3 C304.1,301.5 303.0,301.8 301.8,302.1 C300.7,302.4 299.7,302.6 298.4,302.9 C297.2,303.2 295.7,303.4 294.5,303.7 C293.3,303.9 292.2,304.1 291.1,304.3 C289.9,304.6 288.8,304.8 287.6,305.0 C286.5,305.2 285.3,305.5 284.2,305.7 C283.0,305.9 281.9,306.1 280.7,306.3 C279.6,306.6 278.4,306.8 277.3,307.0 C276.1,307.2 275.0,307.4 273.8,307.6 C272.7,307.8 271.5,308.0 270.4,308.2 C269.2,308.4 268.1,308.6 266.9,308.8 C265.8,309.0 264.6,309.2 263.5,309.4 C262.3,309.6 261.2,309.8 260.0,310.0 C258.9,310.2 257.7,310.3 256.6,310.5 C255.4,310.7 254.3,310.8 253.1,311.0 C252.0,311.2 250.8,311.4 249.6,311.5 C248.5,311.7 247.3,311.9 246.2,312.0 C245.0,312.2 243.9,312.4 242.7,312.6 C241.6,312.7 240.4,312.9 239.2,313.1 C238.1,313.2 236.9,313.4 235.8,313.6 C234.6,313.8 233.5,314.0 232.3,314.2 C231.2,314.5 230.1,314.7 228.9,314.9 C227.8,315.1 226.6,315.4 225.5,315.6 C224.3,315.8 223.2,316.1 222.0,316.3 C220.9,316.5 219.7,316.7 218.6,317.0 C217.5,317.2 216.3,317.4 215.2,317.6 C214.0,317.9 212.9,318.1 211.7,318.3 C210.6,318.5 209.5,318.7 208.3,318.9 C207.0,319.1 205.6,319.4 204.3,319.6 C203.1,319.8 202.0,320.0 200.9,320.2 C199.7,320.4 198.6,320.6 197.4,320.8 C196.3,321.1 195.1,321.3 194.0,321.5 C192.8,321.7 191.7,321.9 190.5,322.1 C189.4,322.3 188.2,322.5 187.1,322.7 C185.9,322.9 184.8,323.1 183.6,323.3 C182.5,323.5 181.3,323.7 180.2,323.9 C179.0,324.2 177.9,324.4 176.7,324.6 C175.6,324.8 174.4,325.0 173.3,325.3 C172.2,325.5 171.0,325.7 169.9,326.0 C168.8,326.3 167.6,326.6 166.5,326.9 C165.4,327.3 164.3,327.6 163.1,327.9 C162.0,328.2 160.9,328.5 159.8,328.9 C158.7,329.3 157.6,329.7 156.5,330.1 C155.4,330.5 154.3,330.9 153.3,331.4 C152.2,331.9 151.1,332.4 150.2,333.0 C149.3,333.7 148.3,334.5 147.9,335.3 C147.4,336.2 147.4,337.2 147.7,338.1 C148.0,339.0 148.8,339.9 149.6,340.7 C150.4,341.5 151.4,342.1 152.4,342.7 C153.4,343.3 154.4,343.9 155.4,344.5 C156.5,345.0 157.5,345.5 158.6,345.9 C159.7,346.4 160.8,346.8 161.8,347.3 C162.9,347.7 164.0,348.2 165.1,348.6 C166.2,349.0 167.2,349.4 168.4,349.8 C169.5,350.3 171.0,350.7 172.1,351.2 C173.3,351.6 174.3,351.9 175.4,352.3 C176.6,352.7 177.7,353.1 178.8,353.4 C179.9,353.8 181.0,354.1 182.1,354.5 C183.2,354.8 184.3,355.2 185.5,355.5 C186.6,355.9 187.7,356.2 188.8,356.6 C189.9,356.9 191.0,357.3 192.1,357.7 C193.2,358.0 194.3,358.4 195.5,358.8 C196.6,359.1 197.7,359.5 198.8,359.9 C199.9,360.2 201.0,360.6 202.1,361.0 C203.2,361.4 204.3,361.7 205.4,362.1 C206.5,362.5 207.6,362.9 208.7,363.3 C209.8,363.7 211.5,364.3 212.0,364.5 L314.0,363.2 C313.4,363.1 311.7,362.7 310.6,362.4 C309.4,362.2 308.3,361.9 307.2,361.6 C306.0,361.4 304.9,361.1 303.8,360.9 C302.6,360.6 301.5,360.3 300.3,360.1 C299.2,359.8 298.1,359.6 296.9,359.3 C295.8,359.1 294.6,358.8 293.5,358.6 C292.4,358.3 291.2,358.1 290.1,357.8 C288.9,357.6 287.8,357.4 286.6,357.1 C285.5,356.9 284.4,356.6 283.2,356.4 C282.1,356.2 280.9,355.9 279.8,355.7 C278.6,355.5 277.5,355.2 276.4,355.0 C275.2,354.8 274.1,354.5 272.9,354.3 C271.8,354.1 270.6,353.8 269.5,353.6 C268.4,353.4 267.3,353.1 266.1,352.9 C264.8,352.6 263.4,352.3 262.1,352.1 C260.9,351.8 259.9,351.6 258.7,351.3 C257.6,351.1 256.4,350.8 255.3,350.6 C254.2,350.3 253.0,350.0 251.9,349.7 C250.8,349.4 249.7,349.1 248.5,348.8 C247.4,348.4 246.3,348.1 245.2,347.8 C244.0,347.5 242.9,347.2 241.8,346.9 C240.7,346.5 239.6,346.2 238.5,345.7 C237.4,345.3 236.3,344.9 235.2,344.4 C234.2,344.0 233.1,343.6 232.0,343.1 C230.9,342.6 229.9,342.2 228.9,341.5 C227.9,340.9 227.1,340.2 226.2,339.4 C225.3,338.6 224.3,337.8 223.7,337.0 C223.1,336.2 222.5,335.4 222.6,334.5 C222.7,333.7 223.6,332.8 224.3,332.0 C225.0,331.2 225.9,330.3 226.8,329.7 C227.7,329.0 228.8,328.5 229.8,328.1 C230.9,327.6 232.0,327.2 233.1,326.8 C234.2,326.3 235.3,325.9 236.4,325.5 C237.5,325.1 238.6,324.8 239.7,324.4 C240.8,324.1 241.9,323.7 243.0,323.4 C244.1,323.1 245.3,322.7 246.4,322.4 C247.5,322.1 248.6,321.8 249.8,321.5 C250.9,321.2 252.0,320.9 253.1,320.6 C254.3,320.3 255.4,320.0 256.5,319.7 C257.7,319.4 258.8,319.2 259.9,318.9 C261.1,318.6 262.2,318.3 263.3,318.0 C264.5,317.7 265.5,317.4 266.7,317.1 C267.9,316.7 269.4,316.3 270.6,316.0 C271.8,315.7 272.8,315.4 274.0,315.1 C275.1,314.8 276.2,314.5 277.3,314.2 C278.5,313.9 279.6,313.6 280.7,313.3 C281.8,313.0 283.0,312.7 284.1,312.4 C285.2,312.1 286.3,311.7 287.5,311.5 C288.6,311.2 289.7,310.9 290.9,310.6 C292.0,310.3 293.1,310.0 294.3,309.8 C295.4,309.5 296.5,309.2 297.7,308.9 C298.8,308.7 299.9,308.4 301.1,308.1 C302.2,307.8 303.4,307.6 304.5,307.3 C305.6,307.0 306.8,306.8 307.9,306.5 C309.0,306.2 310.2,306.0 311.3,305.7 C312.4,305.4 313.6,305.2 314.7,304.9 C315.9,304.6 317.0,304.4 318.1,304.1 C319.3,303.9 320.4,303.6 321.5,303.3 C322.7,303.0 323.8,302.7 324.9,302.3 C326.0,302.0 327.1,301.7 328.3,301.3 C329.4,300.9 330.5,300.6 331.6,300.2 C332.6,299.7 333.7,299.2 334.7,298.6 C335.7,298.1 336.7,297.5 337.6,296.7 C338.4,296.0 339.3,295.1 339.8,294.2 C340.4,293.3 340.9,292.2 340.9,291.2 C340.9,290.2 340.3,289.3 339.8,288.3 C339.3,287.4 338.5,286.4 337.8,285.5 C337.1,284.6 336.3,283.7 335.5,282.9 C334.6,282.2 333.6,281.5 332.7,280.9 C331.7,280.2 330.8,279.7 329.7,279.0 C328.7,278.3 327.4,277.5 326.3,276.9 C325.3,276.3 324.3,275.8 323.3,275.2 C322.2,274.7 321.1,274.3 320.1,273.8 C319.0,273.3 318.0,272.8 316.9,272.3 C315.8,271.8 314.8,271.4 313.7,270.9 C312.6,270.4 311.6,269.9 310.5,269.4 C309.5,268.9 308.4,268.3 307.4,267.8 C306.4,267.3 305.4,266.7 304.3,266.1 C303.3,265.6 302.3,265.0 301.2,264.5 C300.2,263.9 299.2,263.4 298.2,262.8 C297.2,262.2 296.2,261.6 295.2,261.0 C294.2,260.4 293.3,259.7 292.3,259.0 C291.3,258.3 290.3,257.7 289.4,257.0 C288.5,256.3 287.6,255.6 286.8,254.8 C286.0,253.9 285.4,253.0 284.8,252.0 C284.2,251.0 283.7,249.9 283.3,248.9 C282.9,247.8 282.7,246.7 282.5,245.5 C282.3,244.4 282.4,243.2 282.2,242.1 C282.0,240.9 281.8,239.8 281.4,238.7 C281.1,237.6 280.6,236.5 280.1,235.5 C279.6,234.4 279.1,233.4 278.5,232.4 C277.8,231.4 277.1,230.6 276.3,229.8 C275.5,229.0 274.5,228.3 273.6,227.6 C272.7,226.9 271.7,226.1 270.8,225.4 C269.9,224.7 269.0,224.0 268.0,223.3 C267.1,222.7 266.1,222.1 265.1,221.5 C264.1,220.9 263.0,220.4 262.0,219.9 C260.9,219.4 259.9,218.8 258.8,218.3 C257.8,217.8 256.8,217.3 255.7,216.7 C254.6,216.2 253.2,215.5 252.1,215.0 C251.0,214.5 250.0,214.0 248.9,213.5 C247.8,213.1 246.8,212.6 245.7,212.2 C244.6,211.7 243.5,211.2 242.5,210.8 C241.4,210.3 240.3,209.8 239.3,209.4 C238.2,208.9 237.1,208.4 236.1,208.0 C235.0,207.5 233.9,207.0 232.8,206.6 C231.8,206.1 230.7,205.6 229.6,205.2 C228.6,204.7 227.5,204.2 226.4,203.8 C225.3,203.3 224.3,202.8 223.2,202.4 C222.1,201.9 221.1,201.4 220.0,201.0 C218.9,200.5 217.9,200.0 216.8,199.6 C215.7,199.1 214.6,198.7 213.6,198.2 C212.5,197.8 211.4,197.3 210.3,196.9 C209.3,196.4 208.2,196.0 207.1,195.5 C206.0,195.0 205.0,194.6 203.9,194.1 C202.9,193.6 201.8,193.0 200.8,192.5 C199.8,191.9 198.7,191.4 197.7,190.8 C196.8,190.1 195.8,189.5 194.9,188.8 C193.9,188.1 193.0,187.4 192.1,186.7 C191.1,186.0 190.2,185.2 189.4,184.4 C188.6,183.6 187.8,182.7 187.1,181.8 C186.4,180.9 185.7,180.0 185.1,179.0 C184.6,178.0 184.2,176.8 184.0,175.8 C183.7,174.7 183.7,173.5 183.9,172.5 C184.0,171.4 184.5,170.3 185.1,169.3 C185.6,168.3 186.3,167.3 187.0,166.4 C187.7,165.5 188.5,164.8 189.4,163.9 C190.3,163.1 191.4,162.1 192.4,161.3 C193.4,160.5 194.3,160.0 195.3,159.3 C196.3,158.7 197.2,158.0 198.2,157.4 C199.2,156.8 200.3,156.3 201.3,155.8 C202.4,155.3 203.5,154.9 204.6,154.5 C205.7,154.1 206.8,153.7 207.9,153.3 C209.0,153.0 210.1,152.6 211.2,152.2 C212.3,151.9 213.4,151.6 214.5,151.2 C215.7,150.9 216.8,150.6 217.9,150.3 C219.0,150.0 220.2,149.7 221.3,149.4 C222.4,149.1 223.6,148.8 224.7,148.6 C225.8,148.3 227.0,148.1 228.1,147.9 C229.3,147.7 230.4,147.5 231.6,147.3 C232.7,147.1 233.9,146.9 235.0,146.6 C236.2,146.4 237.3,146.2 238.5,146.0 C239.6,145.8 240.8,145.6 241.9,145.4 C243.1,145.2 244.2,144.9 245.3,144.7 C246.5,144.4 247.6,144.1 248.8,143.8 C249.9,143.6 251.0,143.3 252.1,143.0 C253.3,142.7 254.4,142.4 255.5,142.2 C256.7,141.9 257.8,141.6 258.9,141.3 C260.1,141.1 261.2,140.8 262.4,140.6 C263.5,140.4 264.7,140.2 265.8,140.0 C267.0,139.8 268.1,139.7 269.3,139.5 C270.4,139.3 271.6,139.1 272.7,138.8 C273.9,138.6 275.0,138.4 276.2,138.2 C277.3,137.9 278.5,137.7 279.6,137.5 C280.7,137.2 281.9,137.0 283.0,136.8 C284.2,136.5 285.2,136.3 286.5,136.0 C287.7,135.8 289.1,135.5 290.4,135.2 C291.6,134.9 292.6,134.7 293.8,134.4 C294.9,134.2 296.1,133.9 297.2,133.7 C298.3,133.4 299.5,133.2 300.6,132.9 C301.8,132.7 302.9,132.4 304.0,132.2 C305.2,131.9 306.3,131.7 307.5,131.5 C308.6,131.3 309.8,131.1 310.9,130.8 C312.1,130.6 313.2,130.4 314.4,130.2 C315.5,130.0 316.7,129.8 317.8,129.6 C319.0,129.3 320.1,129.1 321.3,128.9 C322.4,128.7 323.5,128.5 324.7,128.2 C325.8,128.0 327.0,127.8 328.1,127.5 C329.3,127.3 330.4,127.0 331.5,126.8 C332.7,126.6 333.8,126.3 335.0,126.1 C336.1,125.8 337.3,125.6 338.4,125.4 C339.5,125.1 340.7,124.9 341.8,124.6 C343.0,124.4 344.1,124.1 345.2,123.9 C346.4,123.6 347.5,123.4 348.7,123.1 C349.8,122.8 350.9,122.6 352.1,122.3 C353.2,122.1 354.4,121.8 355.5,121.6 C356.6,121.3 357.8,121.0 358.9,120.8 C360.1,120.5 361.2,120.3 362.3,120.0 C363.5,119.8 364.6,119.5 365.7,119.3 C366.9,119.0 368.0,118.8 369.2,118.5 C370.3,118.3 371.5,118.0 372.6,117.8 C373.7,117.5 374.9,117.3 376.0,117.0 C377.2,116.8 378.3,116.6 379.4,116.3 C380.6,116.0 381.6,115.8 382.8,115.4 C384.0,115.1 385.5,114.6 386.6,114.2 C387.8,113.8 388.9,113.5 390.0,113.2 C391.1,112.8 392.2,112.5 393.3,112.1 C394.4,111.8 395.6,111.4 396.7,111.1 C397.8,110.7 398.9,110.4 400.0,110.0 C401.1,109.7 402.2,109.3 403.3,109.0 C404.5,108.6 405.6,108.2 406.7,107.9 C407.8,107.5 408.9,107.2 410.0,106.8 C411.1,106.4 412.2,106.1 413.4,105.7 C414.5,105.4 415.6,105.0 416.7,104.6 C417.8,104.3 418.9,103.9 420.0,103.5 C421.1,103.0 422.2,102.6 423.2,102.2 C424.3,101.8 425.4,101.3 426.5,100.9 C427.6,100.5 428.7,100.1 429.8,99.6 C430.8,99.2 431.9,98.7 433.0,98.2 C434.0,97.7 435.1,97.2 436.1,96.7 C437.2,96.2 438.2,95.7 439.2,95.1 C440.3,94.6 441.3,94.0 442.2,93.3 C443.2,92.7 444.2,92.0 445.1,91.3 C446.0,90.6 446.9,89.9 447.6,89.0 C448.4,88.1 449.1,87.2 449.6,86.1 C450.1,85.1 450.6,84.1 450.9,83.0 C451.2,81.9 451.3,80.7 451.5,79.5 C451.6,78.4 451.6,77.2 451.7,76.0 C451.7,74.9 451.7,73.7 451.7,72.5 C451.7,71.4 451.7,70.2 451.7,69.0 C451.7,67.9 451.7,66.7 451.7,65.5 C451.7,64.4 451.7,63.3 451.7,62.0 C451.7,60.8 451.7,59.3 451.7,58.0 C451.7,56.8 451.7,55.7 451.7,54.5 C451.7,53.4 451.7,52.2 451.7,51.0 C451.7,49.9 451.7,48.7 451.7,47.5 C451.7,46.4 451.7,45.2 451.7,44.0 C451.7,42.9 451.7,41.7 451.7,40.5 C451.7,39.4 451.7,38.2 451.7,37.0 C451.7,35.9 451.7,34.7 451.7,33.5 C451.7,32.4 451.7,31.2 451.7,30.0 C451.7,28.8 451.7,27.7 451.7,26.5 C451.7,25.3 451.7,24.2 451.7,23.0 C451.7,21.8 451.7,20.7 451.7,19.5 C451.7,18.3 451.7,17.2 451.7,16.0 C451.7,14.8 451.7,13.7 451.7,12.5 C451.7,11.3 451.7,9.6 451.7,9.0 Z" fill="#008000" fill-opacity="0.3" fill-rule="evenodd" stroke="#008000" stroke-opacity="0.3" stroke-width="0.6"/>
<path d="M342.3,9.0 C342.3,9.6 342.3,11.3 342.3,12.5 C342.3,13.7 342.3,14.8 342.3,16.0 C342.3,17.2 342.3,18.3 342.3,19.5 C342.3,20.7 342.3,21.8 342.3,23.0 C342.3,24.2 342.3,25.4 342.3,26.5 C342.3,27.7 342.3,28.9 342.3,30.0 C342.3,31.2 342.3,32.3 342.3,33.5 C342.3,34.8 342.3,36.3 342.3,37.5 C342.3,38.8 342.3,39.9 342.3,41.0 C342.3,42.2 342.3,43.4 342.3,44.5 C342.3,45.7 342.3,46.9 342.3,48.0 C342.3,49.2 342.3,50.4 342.3,51.5 C342.3,52.7 342.3,53.9 342.3,55.1 C342.3,56.2 342.3,57.4 342.3,58.6 C342.3,59.7 342.3,60.9 342.3,62.1 C342.3,63.2 342.3,64.4 342.3,65.6 C342.3,66.7 342.3,67.9 342.3,69.1 C342.3,70.2 342.3,71.4 342.2,72.6 C342.2,73.7 342.2,74.9 342.1,76.1 C342.1,77.2 342.0,78.4 342.0,79.6 C341.9,80.7 341.9,81.9 341.8,83.1 C341.7,84.2 341.6,85.3 341.5,86.6 C341.4,87.8 341.2,89.3 341.0,90.5 C340.8,91.7 340.5,92.8 340.2,93.9 C340.0,95.1 339.7,96.2 339.4,97.3 C339.1,98.4 338.8,99.6 338.4,100.7 C338.1,101.8 337.7,102.9 337.3,104.0 C336.9,105.1 336.5,106.2 336.0,107.3 C335.6,108.3 335.1,109.4 334.7,110.5 C334.2,111.6 333.8,112.6 333.3,113.7 C332.8,114.8 332.3,115.8 331.8,116.9 C331.3,117.9 330.8,119.0 330.2,120.0 C329.6,121.0 329.0,122.0 328.4,123.0 C327.9,124.0 327.3,125.0 326.7,126.0 C326.1,127.0 325.5,128.1 324.9,129.1 C324.3,130.1 323.7,131.1 323.1,132.1 C322.5,133.1 321.9,134.0 321.2,135.0 C320.6,136.1 319.8,137.4 319.1,138.4 C318.4,139.5 317.8,140.4 317.2,141.4 C316.6,142.3 315.9,143.3 315.3,144.3 C314.7,145.3 314.0,146.3 313.4,147.2 C312.7,148.2 312.0,149.1 311.3,150.1 C310.6,151.0 309.9,151.9 309.1,152.8 C308.4,153.7 307.6,154.5 306.8,155.4 C306.1,156.3 305.3,157.2 304.5,158.1 C303.8,159.0 303.0,159.8 302.3,160.7 C301.5,161.6 300.7,162.5 300.0,163.4 C299.2,164.2 298.4,165.1 297.6,165.9 C296.7,166.7 295.9,167.5 295.0,168.3 C294.1,169.0 293.2,169.8 292.3,170.5 C291.4,171.2 290.5,172.0 289.6,172.7 C288.6,173.4 287.8,174.1 286.8,174.9 C285.8,175.6 284.7,176.6 283.7,177.4 C282.7,178.1 281.8,178.8 280.9,179.5 C280.0,180.2 279.0,180.9 278.1,181.6 C277.2,182.3 276.2,183.0 275.3,183.7 C274.3,184.4 273.4,185.1 272.4,185.7 C271.5,186.4 270.6,187.1 269.6,187.8 C268.7,188.5 267.7,189.2 266.7,189.8 C265.8,190.5 264.8,191.1 263.8,191.8 C262.9,192.4 261.9,193.0 260.9,193.7 C259.9,194.3 258.9,194.9 257.9,195.6 C257.0,196.2 256.0,196.8 255.0,197.4 C254.0,198.1 253.0,198.7 252.0,199.3 C251.1,200.0 250.1,200.6 249.1,201.2 C248.1,201.8 247.1,202.5 246.1,203.1 C245.1,203.7 244.2,204.3 243.2,204.9 C242.1,205.6 240.8,206.4 239.8,207.1 C238.7,207.7 237.8,208.3 236.8,208.9 C235.8,209.6 234.8,210.2 233.8,210.8 C232.8,211.4 231.8,212.0 230.9,212.7 C229.9,213.3 228.9,213.9 227.9,214.5 C226.9,215.1 225.9,215.8 224.9,216.4 C223.9,217.0 222.9,217.6 221.9,218.2 C221.0,218.9 220.0,219.5 219.0,220.1 C218.0,220.7 217.0,221.3 216.0,222.0 C215.0,222.6 214.0,223.2 213.0,223.8 C212.0,224.4 211.0,225.0 210.0,225.6 C209.0,226.2 208.0,226.8 207.0,227.4 C206.0,228.0 205.0,228.5 204.0,229.1 C202.9,229.7 201.9,230.2 200.9,230.8 C199.9,231.4 198.9,231.9 197.8,232.5 C196.7,233.1 195.4,233.9 194.3,234.5 C193.3,235.1 192.3,235.6 191.3,236.2 C190.3,236.8 189.2,237.3 188.2,237.9 C187.2,238.5 186.2,239.0 185.2,239.6 C184.1,240.2 183.1,240.7 182.1,241.3 C181.1,241.9 180.1,242.4 179.0,243.0 C178.0,243.5 177.0,244.1 175.9,244.6 C174.9,245.2 173.9,245.7 172.8,246.3 C171.8,246.8 170.8,247.4 169.7,247.9 C168.7,248.4 167.7,249.0 166.6,249.5 C165.6,250.1 164.6,250.6 163.5,251.2 C162.5,251.7 161.5,252.3 160.4,252.8 C159.4,253.3 158.4,253.9 157.3,254.4 C156.3,255.0 155.3,255.5 154.2,256.1 C153.1,256.6 151.8,257.3 150.7,257.9 C149.5,258.4 148.6,258.9 147.5,259.4 C146.4,259.9 145.4,260.3 144.3,260.8 C143.2,261.3 142.2,261.7 141.1,262.2 C140.0,262.7 139.0,263.1 137.9,263.6 C136.8,264.1 135.7,264.5 134.7,265.0 C133.6,265.5 132.5,266.0 131.5,266.4 C130.4,266.9 129.3,267.4 128.3,267.8 C127.2,268.3 126.1,268.8 125.0,269.2 C124.0,269.7 122.9,270.2 121.8,270.7 C120.8,271.1 119.7,271.6 118.6,272.1 C117.6,272.6 116.5,273.0 115.4,273.5 C114.4,274.0 113.3,274.4 112.3,275.0 C111.2,275.5 110.2,276.0 109.2,276.6 C108.2,277.2 107.4,277.9 106.5,278.7 C105.6,279.5 104.5,280.6 103.9,281.5 C103.3,282.4 103.0,283.3 103.0,284.2 C103.0,285.2 103.4,286.2 103.8,287.1 C104.3,288.1 105.0,289.0 105.8,289.7 C106.6,290.5 107.6,291.1 108.5,291.7 C109.5,292.3 110.6,292.8 111.6,293.4 C112.6,293.9 113.7,294.4 114.7,294.9 C115.8,295.4 116.9,295.8 118.0,296.2 C119.1,296.6 120.2,297.0 121.3,297.3 C122.4,297.6 123.5,297.9 124.7,298.3 C125.8,298.6 126.9,298.9 128.0,299.2 C129.2,299.5 130.3,299.9 131.4,300.2 C132.5,300.5 133.6,300.8 134.8,301.1 C135.9,301.4 137.0,301.7 138.2,302.0 C139.3,302.2 140.4,302.5 141.6,302.7 C142.8,303.0 144.3,303.3 145.5,303.6 C146.7,303.8 147.8,304.0 148.9,304.3 C150.1,304.5 151.2,304.8 152.4,305.0 C153.5,305.2 154.7,305.5 155.8,305.7 C156.9,306.0 158.1,306.2 159.2,306.4 C160.4,306.7 161.5,306.9 162.7,307.1 C163.8,307.4 165.0,307.6 166.1,307.8 C167.2,308.0 168.4,308.2 169.5,308.4 C170.7,308.6 171.8,308.8 173.0,309.0 C174.1,309.3 175.3,309.5 176.4,309.7 C177.6,309.9 178.7,310.1 179.9,310.3 C181.0,310.5 182.2,310.7 183.3,310.9 C184.5,311.1 185.6,311.3 186.8,311.5 C187.9,311.7 189.1,311.9 190.2,312.1 C191.4,312.4 192.5,312.5 193.7,312.8 C194.9,313.0 196.4,313.2 197.6,313.5 C198.9,313.7 199.9,313.9 201.1,314.1 C202.2,314.3 203.4,314.5 204.5,314.7 C205.7,314.9 206.8,315.1 208.0,315.3 C209.1,315.5 210.3,315.7 211.4,315.9 C212.6,316.1 213.7,316.3 214.9,316.5 C216.0,316.7 217.2,316.9 218.3,317.1 C219.5,317.3 220.6,317.5 221.8,317.7 C222.9,317.9 224.1,318.1 225.2,318.3 C226.4,318.5 227.5,318.7 228.7,318.9 C229.8,319.1 231.0,319.3 232.1,319.5 C233.3,319.7 234.4,319.9 235.6,320.1 C236.7,320.3 237.9,320.5 239.0,320.7 C240.2,321.0 241.3,321.2 242.5,321.4 C243.6,321.6 244.7,321.8 245.9,322.0 C247.2,322.3 248.6,322.6 249.9,322.8 C251.1,323.0 252.2,323.2 253.3,323.5 C254.4,323.7 255.6,323.9 256.7,324.1 C257.9,324.3 259.0,324.6 260.2,324.8 C261.3,325.1 262.5,325.3 263.6,325.5 C264.7,325.8 265.9,326.1 267.0,326.3 C268.2,326.6 269.3,326.8 270.4,327.1 C271.6,327.3 272.7,327.6 273.9,327.8 C275.0,328.1 276.1,328.3 277.3,328.6 C278.4,328.9 279.5,329.2 280.7,329.5 C281.8,329.8 282.9,330.1 284.1,330.4 C285.2,330.7 286.3,331.0 287.4,331.4 C288.5,331.7 289.7,332.0 290.8,332.3 C291.9,332.7 293.0,333.0 294.1,333.3 C295.3,333.7 296.3,334.0 297.5,334.4 C298.7,334.8 300.1,335.3 301.3,335.7 C302.4,336.1 303.5,336.5 304.6,336.9 C305.7,337.3 306.8,337.7 307.8,338.1 C308.9,338.5 310.0,338.9 311.1,339.4 C312.2,339.9 313.2,340.4 314.2,340.9 C315.2,341.5 316.3,342.1 317.2,342.7 C318.2,343.3 319.2,344.0 320.1,344.7 C321.0,345.4 322.4,346.5 322.8,346.9 L314.2,363.0" fill="none" stroke="#0000ff" stroke-width="1.7" stroke-linejoin="round"/>
<path d="M252.8,9.0 C252.8,9.6 252.8,11.3 252.8,12.5 C252.8,13.7 252.8,14.8 252.8,16.0 C252.8,17.2 252.8,18.3 252.8,19.5 C252.8,20.7 252.8,21.9 252.8,23.0 C252.8,24.2 252.8,25.3 252.8,26.5 C252.8,27.8 252.8,29.3 252.8,30.5 C252.8,31.8 252.8,32.9 252.8,34.0 C252.8,35.2 252.8,36.4 252.8,37.5 C252.8,38.7 252.8,39.9 252.8,41.1 C252.8,42.2 252.8,43.4 252.8,44.6 C252.8,45.7 252.8,46.9 252.8,48.1 C252.8,49.2 252.8,50.4 252.8,51.6 C252.8,52.7 252.8,53.9 252.8,55.1 C252.8,56.2 252.8,57.4 252.8,58.6 C252.8,59.8 252.8,60.9 252.8,62.1 C252.8,63.3 252.8,64.3 252.8,65.6 C252.8,66.8 252.8,68.3 252.8,69.6 C252.8,70.9 252.8,71.9 252.8,73.1 C252.8,74.3 252.8,75.4 252.8,76.6 C252.8,77.8 252.8,78.9 252.8,80.1 C252.8,81.3 252.8,82.5 252.8,83.6 C252.8,84.8 252.8,86.0 252.8,87.1 C252.8,88.3 252.8,89.5 252.8,90.6 C252.8,91.8 252.8,93.0 252.8,94.1 C252.8,95.3 252.8,96.5 252.8,97.6 C252.8,98.8 252.8,100.0 252.8,101.2 C252.8,102.3 252.8,103.4 252.8,104.7 C252.8,105.9 252.8,107.4 252.8,108.7 C252.8,109.9 252.8,111.0 252.8,112.2 C252.8,113.3 252.8,114.5 252.8,115.7 C252.8,116.8 252.8,118.0 252.8,119.2 C252.8,120.4 252.8,121.5 252.8,122.7 C252.8,123.9 252.8,125.0 252.8,126.2 C252.8,127.4 252.8,128.5 252.8,129.7 C252.8,130.9 252.8,132.0 252.8,133.2 C252.8,134.4 252.8,135.5 252.8,136.7 C252.8,137.9 252.8,139.0 252.8,140.2 C252.8,141.4 252.8,142.5 252.8,143.7 C252.8,145.0 252.8,146.5 252.8,147.7 C252.8,149.0 252.8,150.1 252.8,151.2 C252.8,152.4 252.8,153.6 252.8,154.7 C252.8,155.9 252.8,157.1 252.8,158.2 C252.8,159.4 252.8,160.6 252.8,161.8 C252.8,162.9 252.8,164.1 252.8,165.3 C252.8,166.4 252.8,167.6 252.8,168.8 C252.8,169.9 252.8,171.1 252.8,172.3 C252.8,173.4 252.8,174.6 252.8,175.8 C252.8,176.9 252.8,178.1 252.8,179.3 C252.8,180.4 252.8,181.5 252.8,182.8 C252.8,184.0 252.8,185.5 252.8,186.8 C252.8,188.0 252.8,189.1 252.8,190.3 C252.8,191.5 252.8,192.6 252.8,193.8 C252.8,195.0 252.8,196.1 252.8,197.3 C252.8,198.5 252.8,199.6 252.8,200.8 C252.8,202.0 252.8,203.2 252.8,204.3 C252.8,205.5 252.8,206.7 252.8,207.8 C252.8,209.0 252.8,210.2 252.8,211.3 C252.8,212.5 252.8,213.7 252.8,214.8 C252.8,216.0 252.8,217.2 252.8,218.3 C252.8,219.5 252.8,220.6 252.8,221.9 C252.8,223.1 252.8,224.6 252.8,225.9 C252.8,227.1 252.8,228.2 252.8,229.4 C252.8,230.5 252.8,231.7 252.8,232.9 C252.8,234.0 252.8,235.2 252.8,236.4 C252.8,237.5 252.8,238.7 252.8,239.9 C252.8,241.0 252.9,242.2 252.9,243.4 C252.9,244.6 252.9,245.7 252.9,246.9 C253.0,248.1 253.0,249.2 253.1,250.4 C253.1,251.6 253.2,252.7 253.2,253.9 C253.3,255.1 253.3,256.2 253.4,257.4 C253.5,258.6 253.5,259.6 253.6,260.9 C253.7,262.1 253.7,263.6 253.8,264.9 C253.9,266.1 254.0,267.2 254.1,268.4 C254.2,269.6 254.2,270.7 254.3,271.9 C254.4,273.1 254.5,274.2 254.7,275.4 C254.8,276.5 255.0,277.7 255.2,278.8 C255.3,280.0 255.6,281.1 255.8,282.3 C256.0,283.4 256.2,284.6 256.5,285.7 C256.8,286.8 257.1,288.0 257.4,289.1 C257.8,290.2 258.2,291.3 258.7,292.3 C259.1,293.4 259.6,294.5 260.1,295.5 C260.6,296.6 261.1,297.5 261.8,298.6 C262.4,299.6 263.3,300.8 264.1,301.8 C264.8,302.8 265.5,303.6 266.3,304.5 C267.1,305.3 267.9,306.2 268.8,306.9 C269.7,307.7 270.6,308.5 271.5,309.2 C272.4,309.9 273.3,310.6 274.2,311.3 C275.2,312.0 276.2,312.7 277.1,313.3 C278.1,314.0 279.1,314.6 280.1,315.2 C281.0,315.9 282.0,316.5 283.0,317.2 C283.9,317.8 284.9,318.5 285.9,319.1 C286.8,319.8 287.8,320.5 288.8,321.1 C289.8,321.7 290.7,322.3 291.7,323.0 C292.8,323.6 294.1,324.4 295.2,325.0 C296.3,325.7 297.2,326.2 298.2,326.8 C299.2,327.4 300.2,327.9 301.3,328.5 C302.3,329.1 303.3,329.7 304.3,330.3 C305.3,330.9 306.3,331.5 307.3,332.0 C308.3,332.6 309.3,333.2 310.3,333.8 C311.4,334.4 312.4,335.0 313.4,335.6 C314.4,336.2 315.4,336.8 316.4,337.4 C317.3,338.0 318.3,338.7 319.3,339.4 C320.2,340.1 321.1,340.8 322.0,341.5 C323.0,342.2 323.8,342.9 324.7,343.7 C325.6,344.6 326.7,345.6 327.4,346.6 C328.2,347.5 328.7,348.5 329.2,349.5 C329.7,350.5 330.2,351.6 330.5,352.7 C330.9,353.8 331.1,354.9 331.3,356.0 C331.5,357.2 331.6,358.4 331.7,359.5 C331.9,360.7 332.0,362.4 332.1,363.0" fill="none" stroke="#ffa500" stroke-width="1.7" stroke-linejoin="round"/>
<path d="M319.3,9.0 C319.3,9.6 319.3,11.3 319.3,12.5 C319.3,13.7 319.3,14.8 319.3,16.0 C319.3,17.2 319.3,18.3 319.3,19.5 C319.3,20.7 319.3,21.8 319.3,23.0 C319.3,24.2 319.3,25.4 319.3,26.5 C319.3,27.7 319.3,28.9 319.3,30.0 C319.3,31.2 319.3,32.4 319.3,33.5 C319.3,34.7 319.3,35.9 319.3,37.0 C319.3,38.2 319.3,39.4 319.3,40.5 C319.3,41.7 319.3,42.9 319.3,44.0 C319.3,45.2 319.3,46.4 319.3,47.5 C319.3,48.7 319.3,49.9 319.3,51.0 C319.3,52.2 319.3,53.3 319.3,54.6 C319.3,55.8 319.3,57.3 319.3,58.6 C319.3,59.8 319.3,60.9 319.3,62.1 C319.3,63.2 319.3,64.4 319.3,65.6 C319.3,66.7 319.3,67.9 319.3,69.1 C319.3,70.2 319.3,71.4 319.3,72.6 C319.3,73.7 319.3,74.9 319.3,76.1 C319.2,77.2 319.2,78.4 319.1,79.6 C319.0,80.7 318.9,81.9 318.7,83.0 C318.5,84.2 318.2,85.3 317.8,86.4 C317.4,87.4 316.9,88.5 316.4,89.5 C315.8,90.5 315.1,91.4 314.4,92.3 C313.7,93.2 312.8,94.0 312.0,94.9 C311.2,95.7 310.4,96.5 309.5,97.3 C308.7,98.1 307.8,98.9 306.9,99.6 C306.0,100.3 305.0,101.0 304.0,101.6 C303.0,102.2 302.0,102.8 301.0,103.4 C300.0,104.0 299.0,104.6 298.0,105.2 C297.0,105.7 296.0,106.3 295.0,106.9 C293.9,107.5 292.9,108.1 291.9,108.6 C290.9,109.2 289.8,109.7 288.8,110.2 C287.7,110.7 286.7,111.2 285.6,111.7 C284.6,112.2 283.5,112.8 282.5,113.2 C281.4,113.7 280.3,114.2 279.3,114.7 C278.2,115.1 277.1,115.5 276.0,115.9 C274.9,116.3 273.8,116.7 272.7,117.1 C271.6,117.5 270.5,117.9 269.4,118.4 C268.3,118.8 267.3,119.1 266.1,119.6 C265.0,120.0 263.6,120.5 262.4,120.9 C261.2,121.3 260.2,121.7 259.1,122.1 C258.0,122.5 256.9,122.8 255.7,123.2 C254.6,123.6 253.5,123.9 252.4,124.3 C251.3,124.7 250.2,125.1 249.1,125.4 C248.0,125.8 246.9,126.2 245.8,126.5 C244.7,126.9 243.6,127.3 242.5,127.7 C241.4,128.1 240.3,128.5 239.2,128.8 C238.1,129.2 237.0,129.6 235.9,130.0 C234.8,130.4 233.7,130.8 232.6,131.2 C231.5,131.6 230.4,132.0 229.2,132.3 C228.1,132.7 227.0,133.1 225.9,133.5 C224.8,133.9 223.7,134.2 222.6,134.5 C221.5,134.9 220.3,135.2 219.2,135.5 C218.1,135.8 217.0,136.1 215.8,136.4 C214.7,136.7 213.6,137.0 212.5,137.3 C211.3,137.6 210.2,137.9 209.1,138.3 C208.0,138.6 206.8,138.9 205.7,139.2 C204.6,139.5 203.5,139.9 202.4,140.3 C201.3,140.6 200.2,141.0 199.1,141.4 C198.0,141.8 196.9,142.2 195.8,142.6 C194.7,143.0 193.6,143.4 192.5,143.8 C191.4,144.1 190.3,144.5 189.1,144.9 C188.0,145.3 186.9,145.6 185.8,146.0 C184.7,146.4 183.6,146.7 182.5,147.1 C181.4,147.4 180.3,147.8 179.2,148.2 C178.0,148.5 177.0,148.9 175.8,149.3 C174.7,149.7 173.2,150.2 172.1,150.6 C170.9,151.1 169.9,151.4 168.8,151.8 C167.7,152.3 166.6,152.7 165.5,153.1 C164.4,153.6 163.4,154.1 162.3,154.6 C161.3,155.1 160.2,155.6 159.2,156.1 C158.2,156.7 157.1,157.2 156.2,157.8 C155.2,158.5 154.3,159.2 153.4,160.0 C152.6,160.7 151.7,161.6 151.0,162.5 C150.3,163.4 149.7,164.3 149.2,165.3 C148.8,166.3 148.4,167.5 148.3,168.6 C148.1,169.7 148.2,170.8 148.4,171.9 C148.6,173.0 149.1,174.1 149.6,175.1 C150.1,176.1 150.8,177.0 151.6,177.9 C152.3,178.7 153.1,179.6 154.0,180.3 C154.9,181.0 155.8,181.7 156.8,182.3 C157.8,182.9 158.8,183.5 159.9,184.0 C160.9,184.6 161.9,185.1 163.0,185.5 C164.1,186.0 165.2,186.4 166.3,186.8 C167.4,187.2 168.5,187.6 169.6,187.9 C170.7,188.3 171.8,188.7 172.9,189.0 C174.0,189.4 175.1,189.8 176.2,190.1 C177.3,190.5 178.4,190.9 179.6,191.3 C180.7,191.6 181.8,192.0 182.9,192.4 C184.0,192.7 185.1,193.1 186.2,193.5 C187.3,193.9 188.4,194.4 189.4,194.8 C190.5,195.2 191.6,195.7 192.7,196.1 C193.8,196.5 194.8,196.9 196.0,197.4 C197.1,197.9 198.5,198.4 199.7,198.9 C200.8,199.4 201.8,199.8 202.9,200.2 C204.0,200.6 205.1,201.1 206.2,201.5 C207.2,202.0 208.3,202.4 209.4,202.9 C210.5,203.3 211.6,203.7 212.6,204.2 C213.7,204.6 214.8,205.1 215.9,205.5 C217.0,205.9 218.1,206.4 219.1,206.8 C220.2,207.2 221.3,207.7 222.4,208.1 C223.5,208.6 224.6,209.0 225.6,209.4 C226.7,209.9 227.8,210.3 228.9,210.7 C230.0,211.1 231.1,211.6 232.2,212.0 C233.3,212.4 234.4,212.7 235.5,213.1 C236.6,213.5 237.7,213.9 238.8,214.3 C239.9,214.7 241.0,215.1 242.1,215.5 C243.2,215.9 244.3,216.3 245.4,216.7 C246.5,217.1 247.5,217.5 248.6,218.0 C249.7,218.4 250.8,218.9 251.9,219.3 C252.9,219.8 254.0,220.2 255.1,220.7 C256.2,221.1 257.3,221.5 258.3,222.0 C259.4,222.5 260.4,223.0 261.5,223.6 C262.5,224.1 263.4,224.8 264.4,225.4 C265.3,226.1 266.3,226.8 267.2,227.5 C268.1,228.2 269.1,228.9 269.9,229.7 C270.7,230.5 271.5,231.3 272.2,232.2 C272.9,233.2 273.5,234.2 274.1,235.2 C274.6,236.2 275.2,237.2 275.6,238.3 C276.1,239.3 276.4,240.4 276.7,241.6 C276.9,242.8 277.1,244.3 277.3,245.5 C277.5,246.7 277.7,247.8 278.0,248.9 C278.2,250.0 278.6,251.1 279.0,252.2 C279.5,253.3 279.9,254.4 280.4,255.4 C281.0,256.4 281.6,257.4 282.3,258.2 C283.0,259.1 283.9,259.8 284.8,260.6 C285.7,261.3 286.7,262.0 287.6,262.7 C288.6,263.4 289.5,264.1 290.5,264.7 C291.5,265.3 292.5,265.9 293.5,266.4 C294.5,267.0 295.6,267.4 296.6,268.0 C297.7,268.5 298.8,268.9 299.8,269.4 C300.9,269.9 301.9,270.4 303.0,270.9 C304.0,271.4 305.1,271.9 306.2,272.4 C307.2,272.9 308.3,273.4 309.3,273.9 C310.4,274.3 311.5,274.8 312.6,275.3 C313.6,275.7 314.7,276.2 315.8,276.6 C316.9,277.1 317.9,277.5 319.0,278.0 C320.1,278.4 321.2,278.9 322.2,279.4 C323.3,279.8 324.4,280.3 325.4,280.9 C326.4,281.4 327.5,281.9 328.5,282.5 C329.5,283.1 330.5,283.7 331.5,284.3 C332.5,284.9 333.5,285.6 334.3,286.3 C335.2,287.0 336.1,287.8 336.6,288.7 C337.0,289.5 337.3,290.5 337.1,291.3 C337.0,292.2 336.3,293.2 335.6,294.0 C334.9,294.8 334.0,295.6 333.1,296.2 C332.1,296.8 331.1,297.1 330.0,297.6 C328.8,298.1 327.4,298.5 326.2,298.9 C325.0,299.3 324.0,299.7 322.9,300.0 C321.8,300.4 320.6,300.7 319.5,300.9 C318.4,301.2 317.2,301.5 316.1,301.7 C314.9,302.0 313.8,302.2 312.7,302.5 C311.5,302.7 310.4,303.0 309.2,303.2 C308.1,303.5 307.0,303.7 305.8,304.0 C304.7,304.2 303.5,304.4 302.4,304.7 C301.2,304.9 300.1,305.1 298.9,305.3 C297.8,305.5 296.6,305.7 295.5,306.0 C294.3,306.2 293.2,306.4 292.1,306.6 C290.9,306.8 289.8,307.0 288.6,307.3 C287.5,307.5 286.3,307.7 285.2,307.9 C284.0,308.1 282.9,308.3 281.7,308.5 C280.6,308.7 279.4,308.9 278.3,309.1 C277.1,309.3 276.0,309.5 274.8,309.7 C273.7,309.9 272.5,310.1 271.4,310.3 C270.2,310.5 269.1,310.7 267.9,310.9 C266.8,311.2 265.6,311.4 264.5,311.6 C263.3,311.8 262.2,312.0 261.0,312.2 C259.9,312.4 258.7,312.6 257.6,312.8 C256.4,313.0 255.3,313.2 254.1,313.4 C253.0,313.6 251.8,313.8 250.7,314.0 C249.5,314.2 248.4,314.4 247.2,314.7 C246.1,314.9 244.9,315.1 243.8,315.3 C242.6,315.5 241.5,315.7 240.3,316.0 C239.2,316.2 238.1,316.4 236.9,316.7 C235.7,317.0 234.2,317.3 233.0,317.5 C231.8,317.8 230.7,318.0 229.6,318.3 C228.4,318.5 227.3,318.8 226.1,319.0 C225.0,319.3 223.9,319.5 222.7,319.8 C221.6,320.0 220.4,320.3 219.3,320.5 C218.2,320.8 217.0,321.0 215.9,321.2 C214.7,321.5 213.6,321.7 212.4,321.9 C211.3,322.2 210.2,322.4 209.0,322.7 C207.9,322.9 206.7,323.2 205.6,323.5 C204.5,323.8 203.4,324.1 202.2,324.5 C201.1,324.8 200.0,325.1 198.9,325.5 C197.8,325.8 196.7,326.1 195.6,326.6 C194.5,327.0 193.4,327.5 192.4,328.0 C191.4,328.6 190.3,329.1 189.4,329.8 C188.5,330.4 187.5,331.1 186.8,331.9 C186.0,332.7 185.3,333.7 185.0,334.7 C184.6,335.7 184.5,336.8 184.6,337.8 C184.8,338.8 185.3,339.8 185.9,340.7 C186.5,341.6 187.4,342.4 188.3,343.1 C189.2,343.8 190.2,344.4 191.2,344.9 C192.2,345.5 193.3,345.9 194.4,346.4 C195.4,346.8 196.6,347.1 197.7,347.5 C198.8,347.9 199.9,348.3 201.0,348.6 C202.1,348.9 203.2,349.2 204.4,349.5 C205.5,349.9 206.6,350.1 207.8,350.4 C208.9,350.7 210.0,351.0 211.2,351.3 C212.3,351.5 213.3,351.8 214.6,352.0 C215.8,352.3 217.3,352.5 218.5,352.8 C219.7,353.0 220.8,353.2 222.0,353.4 C223.1,353.6 224.2,353.8 225.4,354.1 C226.5,354.3 227.7,354.5 228.8,354.7 C230.0,354.9 231.1,355.2 232.3,355.4 C233.4,355.7 234.5,355.9 235.7,356.2 C236.8,356.4 238.0,356.7 239.1,357.0 C240.2,357.2 241.4,357.5 242.5,357.7 C243.7,358.0 244.8,358.3 245.9,358.5 C247.1,358.8 248.2,359.1 249.3,359.4 C250.5,359.7 251.6,360.0 252.7,360.3 C253.9,360.6 255.0,360.8 256.1,361.1 C257.2,361.4 258.4,361.7 259.5,362.0 C260.6,362.3 262.3,362.8 262.9,362.9" fill="none" stroke="#008000" stroke-width="1.7" stroke-linejoin="round"/>
</g>
<rect x="55.05" y="6.95" width="469.00" height="355.90" fill="none" stroke="#5e5e5e" stroke-width="1.45"/>
<g class="tx">
<line x1="69.0" y1="362.85" x2="69.0" y2="366.45000000000005" stroke="#6a6a6a" stroke-width="1"/>
<text x="69.0" y="379.35" text-anchor="middle" font-size="11.6" textLength="21.8" lengthAdjust="spacingAndGlyphs">500</text>
<line x1="164.6" y1="362.85" x2="164.6" y2="366.45000000000005" stroke="#6a6a6a" stroke-width="1"/>
<text x="164.6" y="379.35" text-anchor="middle" font-size="11.6" textLength="29.0" lengthAdjust="spacingAndGlyphs">1000</text>
<line x1="260.2" y1="362.85" x2="260.2" y2="366.45000000000005" stroke="#6a6a6a" stroke-width="1"/>
<text x="260.2" y="379.35" text-anchor="middle" font-size="11.6" textLength="29.0" lengthAdjust="spacingAndGlyphs">1500</text>
<line x1="355.79999999999995" y1="362.85" x2="355.79999999999995" y2="366.45000000000005" stroke="#6a6a6a" stroke-width="1"/>
<text x="355.79999999999995" y="379.35" text-anchor="middle" font-size="11.6" textLength="29.0" lengthAdjust="spacingAndGlyphs">2000</text>
<line x1="451.4" y1="362.85" x2="451.4" y2="366.45000000000005" stroke="#6a6a6a" stroke-width="1"/>
<text x="451.4" y="379.35" text-anchor="middle" font-size="11.6" textLength="29.0" lengthAdjust="spacingAndGlyphs">2500</text>
<line x1="51.449999999999996" y1="6.95" x2="55.05" y2="6.95" stroke="#6a6a6a" stroke-width="1"/>
<text x="35.4" y="12.6" text-anchor="end" font-size="11.6" textLength="15.0" lengthAdjust="spacingAndGlyphs">10</text>
<text x="47.4" y="7.8" text-anchor="end" font-size="8.2" textLength="11.4" lengthAdjust="spacingAndGlyphs">−5</text>
<line x1="51.449999999999996" y1="71.65909090909092" x2="55.05" y2="71.65909090909092" stroke="#6a6a6a" stroke-width="1"/>
<text x="35.4" y="77.3" text-anchor="end" font-size="11.6" textLength="15.0" lengthAdjust="spacingAndGlyphs">10</text>
<text x="47.4" y="72.5" text-anchor="end" font-size="8.2" textLength="11.4" lengthAdjust="spacingAndGlyphs">−3</text>
<line x1="51.449999999999996" y1="136.36818181818182" x2="55.05" y2="136.36818181818182" stroke="#6a6a6a" stroke-width="1"/>
<text x="35.4" y="142.0" text-anchor="end" font-size="11.6" textLength="15.0" lengthAdjust="spacingAndGlyphs">10</text>
<text x="47.4" y="137.2" text-anchor="end" font-size="8.2" textLength="11.4" lengthAdjust="spacingAndGlyphs">−1</text>
<line x1="51.449999999999996" y1="201.07727272727274" x2="55.05" y2="201.07727272727274" stroke="#6a6a6a" stroke-width="1"/>
<text x="41.4" y="206.7" text-anchor="end" font-size="11.6" textLength="15.0" lengthAdjust="spacingAndGlyphs">10</text>
<text x="47.4" y="201.9" text-anchor="end" font-size="8.2" textLength="5.4" lengthAdjust="spacingAndGlyphs">1</text>
<line x1="51.449999999999996" y1="265.78636363636366" x2="55.05" y2="265.78636363636366" stroke="#6a6a6a" stroke-width="1"/>
<text x="41.4" y="271.4" text-anchor="end" font-size="11.6" textLength="15.0" lengthAdjust="spacingAndGlyphs">10</text>
<text x="47.4" y="266.6" text-anchor="end" font-size="8.2" textLength="5.4" lengthAdjust="spacingAndGlyphs">3</text>
<line x1="51.449999999999996" y1="330.4954545454546" x2="55.05" y2="330.4954545454546" stroke="#6a6a6a" stroke-width="1"/>
<text x="41.4" y="336.1" text-anchor="end" font-size="11.6" textLength="15.0" lengthAdjust="spacingAndGlyphs">10</text>
<text x="47.4" y="331.3" text-anchor="end" font-size="8.2" textLength="5.4" lengthAdjust="spacingAndGlyphs">5</text>
<text x="288.9" y="396.6" text-anchor="middle" font-size="14.6" textLength="115.6" lengthAdjust="spacingAndGlyphs">Temperature (K)</text>
<text transform="translate(12.4,185.9) rotate(-90)" text-anchor="middle" font-size="14.6" textLength="91" lengthAdjust="spacingAndGlyphs">Pressure (Pa)</text>
<rect x="347.7" y="10.2" width="169.6" height="46.5" rx="2" ry="2" fill="#ffffff" fill-opacity="0.8" stroke="#cccccc" stroke-opacity="0.8" stroke-width="0.8"/>
<rect x="351.3" y="16.4" width="19.4" height="6.8" fill="#0000ff" fill-opacity="0.3" stroke="#0000ff" stroke-opacity="0.3" stroke-width="0.6"/>
<text x="377.6" y="23.5" font-size="10.2" textLength="122" lengthAdjust="spacingAndGlyphs">2-Faces free T-p (coupled)</text>
<rect x="351.3" y="30.4" width="19.4" height="6.8" fill="#ffa500" fill-opacity="0.3" stroke="#ffa500" stroke-opacity="0.3" stroke-width="0.6"/>
<text x="377.6" y="37.5" font-size="10.2" textLength="134.3" lengthAdjust="spacingAndGlyphs">2-Faces Guillot T-p (coupled)</text>
<rect x="351.3" y="44.5" width="19.4" height="6.8" fill="#008000" fill-opacity="0.3" stroke="#008000" stroke-opacity="0.3" stroke-width="0.6"/>
<text x="377.6" y="51.6" font-size="10.2" textLength="137.7" lengthAdjust="spacingAndGlyphs">2-Faces free T-p (de-coupled)</text>
</g>
<clipPath id="cb"><rect x="55.05" y="419.1" width="469.00" height="355.75"/></clipPath>
<g clip-path="url(#cb)">
<path d="M190.7,421.0 C190.7,421.6 190.7,423.3 190.7,424.5 C190.7,425.7 190.7,426.8 190.7,428.0 C190.7,429.2 190.7,430.4 190.7,431.5 C190.7,432.7 190.7,433.9 190.7,435.0 C190.7,436.2 190.7,437.4 190.7,438.5 C190.7,439.7 190.7,440.9 190.7,442.0 C190.7,443.2 190.7,444.4 190.7,445.6 C190.7,446.7 190.7,447.9 190.7,449.1 C190.7,450.2 190.7,451.3 190.7,452.6 C190.7,453.8 190.7,455.3 190.7,456.6 C190.7,457.8 190.7,458.9 190.7,460.1 C190.7,461.3 190.7,462.4 190.7,463.6 C190.7,464.8 190.7,465.9 190.7,467.1 C190.7,468.3 190.7,469.4 190.7,470.6 C190.7,471.8 190.7,472.9 190.7,474.1 C190.7,475.3 190.7,476.5 190.7,477.6 C190.7,478.8 190.7,480.0 190.7,481.1 C190.7,482.3 190.7,483.5 190.7,484.6 C190.7,485.8 190.7,487.0 190.7,488.1 C190.7,489.3 190.7,490.5 190.7,491.7 C190.7,492.8 190.7,494.0 190.7,495.2 C190.7,496.3 190.7,497.5 190.7,498.7 C190.7,499.8 190.7,501.0 190.7,502.2 C190.7,503.3 190.7,504.5 190.7,505.7 C190.7,506.8 190.7,508.0 190.7,509.2 C190.7,510.4 190.7,511.5 190.7,512.7 C190.7,513.9 190.7,515.0 190.7,516.2 C190.7,517.4 190.7,518.5 190.7,519.7 C190.7,520.9 190.7,522.0 190.7,523.2 C190.8,524.5 190.9,526.0 191.0,527.2 C191.0,528.5 191.1,529.5 191.3,530.7 C191.4,531.9 191.5,533.0 191.7,534.2 C191.9,535.3 192.1,536.5 192.4,537.6 C192.7,538.7 193.0,539.9 193.3,541.0 C193.6,542.1 193.9,543.3 194.2,544.4 C194.5,545.5 194.8,546.6 195.1,547.8 C195.3,548.9 195.6,550.0 195.8,551.2 C196.0,552.3 196.2,553.5 196.3,554.6 C196.4,555.8 196.5,557.0 196.5,558.1 C196.6,559.3 196.6,560.5 196.6,561.6 C196.6,562.8 196.5,563.9 196.4,565.1 C196.2,566.2 195.9,567.4 195.6,568.5 C195.4,569.6 195.0,570.7 194.7,571.8 C194.3,572.9 194.0,574.1 193.5,575.1 C193.0,576.2 192.5,577.2 191.9,578.1 C191.3,579.1 190.5,580.0 189.8,580.9 C189.0,581.8 188.3,582.7 187.5,583.5 C186.7,584.4 185.9,585.3 185.1,586.1 C184.2,586.9 183.4,587.6 182.4,588.3 C181.5,589.1 180.2,590.0 179.2,590.7 C178.2,591.4 177.3,592.0 176.3,592.7 C175.4,593.4 174.4,594.1 173.5,594.7 C172.5,595.4 171.5,596.0 170.6,596.7 C169.6,597.3 168.6,598.0 167.7,598.6 C166.7,599.3 165.7,599.9 164.7,600.6 C163.8,601.2 162.8,601.9 161.8,602.6 C160.9,603.3 160.0,604.0 159.1,604.8 C158.3,605.5 157.4,606.4 156.6,607.2 C155.8,608.0 155.0,608.9 154.3,609.8 C153.5,610.7 152.8,611.6 152.2,612.5 C151.5,613.5 150.9,614.5 150.4,615.5 C149.9,616.6 149.3,617.6 149.0,618.7 C148.6,619.7 148.4,620.8 148.3,622.0 C148.2,623.1 148.2,624.2 148.4,625.4 C148.5,626.5 148.8,627.6 149.2,628.7 C149.5,629.8 149.9,630.9 150.4,632.0 C150.8,633.1 151.3,634.1 151.8,635.2 C152.3,636.3 152.7,637.2 153.3,638.4 C153.8,639.5 154.5,640.8 155.0,642.0 C155.5,643.1 155.9,644.1 156.3,645.2 C156.7,646.3 157.0,647.4 157.2,648.6 C157.5,649.7 157.7,650.9 158.0,652.0 C158.2,653.1 158.4,654.3 158.6,655.4 C158.8,656.6 159.0,657.7 159.1,658.9 C159.3,660.1 159.4,661.2 159.5,662.4 C159.6,663.6 159.7,664.7 159.8,665.9 C160.0,667.0 160.1,668.2 160.2,669.4 C160.3,670.5 160.4,671.7 160.5,672.9 C160.6,674.0 160.7,675.2 160.8,676.4 C160.8,677.5 160.9,678.7 161.0,679.9 C161.1,681.0 161.2,682.2 161.2,683.4 C161.3,684.5 161.3,685.7 161.3,686.9 C161.3,688.0 161.4,689.2 161.4,690.4 C161.4,691.5 161.4,692.7 161.3,693.9 C161.2,695.0 161.0,696.2 160.8,697.3 C160.6,698.5 160.4,699.6 160.1,700.7 C159.8,701.9 159.5,703.0 159.1,704.1 C158.7,705.1 158.2,706.1 157.6,707.2 C157.0,708.3 156.2,709.6 155.6,710.7 C155.0,711.7 154.4,712.6 153.7,713.6 C153.1,714.6 152.4,715.5 151.7,716.4 C151.0,717.4 150.2,718.2 149.5,719.2 C148.8,720.1 148.0,721.0 147.4,721.9 C146.8,722.9 146.3,723.9 146.0,725.0 C145.7,726.0 145.5,727.2 145.5,728.3 C145.5,729.4 145.7,730.6 145.9,731.7 C146.2,732.8 146.5,733.9 147.0,734.9 C147.4,736.0 148.0,737.0 148.6,738.0 C149.2,739.0 149.9,739.9 150.7,740.8 C151.4,741.7 152.1,742.6 152.9,743.5 C153.7,744.3 154.5,745.2 155.4,746.0 C156.2,746.8 157.1,747.6 157.9,748.3 C158.8,749.1 159.7,749.9 160.6,750.7 C161.4,751.4 162.4,752.2 163.3,752.9 C164.2,753.6 165.2,754.2 166.1,754.9 C167.1,755.5 168.1,756.2 169.1,756.8 C170.0,757.5 171.0,758.1 172.0,758.7 C173.0,759.4 173.9,759.9 175.0,760.5 C176.1,761.1 177.4,761.8 178.6,762.4 C179.7,762.9 180.6,763.4 181.7,763.9 C182.7,764.5 183.8,765.0 184.9,765.5 C185.9,765.9 187.0,766.4 188.1,766.9 C189.1,767.3 190.2,767.8 191.3,768.2 C192.4,768.7 193.4,769.1 194.5,769.6 C195.6,770.1 196.7,770.6 197.7,771.1 C198.8,771.6 199.8,772.1 200.8,772.7 C201.9,773.2 202.9,773.7 203.9,774.3 C205.0,774.9 206.5,775.7 207.0,776.0 L383.0,776.0 C382.4,775.9 380.7,775.4 379.6,775.1 C378.5,774.8 377.3,774.5 376.2,774.3 C375.1,774.0 373.9,773.8 372.8,773.6 C371.6,773.4 370.5,773.2 369.3,772.9 C368.2,772.7 367.1,772.4 365.9,772.1 C364.8,771.9 363.7,771.5 362.5,771.2 C361.4,770.9 360.3,770.5 359.2,770.2 C358.1,769.9 357.0,769.5 355.8,769.2 C354.7,768.8 353.6,768.4 352.5,768.0 C351.4,767.6 350.3,767.2 349.2,766.8 C348.2,766.4 347.1,766.0 346.0,765.5 C344.8,765.1 343.4,764.6 342.2,764.1 C341.1,763.6 340.1,763.2 339.0,762.8 C337.9,762.4 336.8,761.9 335.7,761.5 C334.7,761.0 333.6,760.6 332.5,760.1 C331.4,759.7 330.3,759.2 329.3,758.8 C328.2,758.3 327.1,757.8 326.1,757.3 C325.0,756.8 324.0,756.3 323.0,755.7 C321.9,755.2 320.9,754.6 319.9,754.0 C318.9,753.4 317.9,752.8 316.9,752.2 C315.9,751.6 314.9,751.0 313.9,750.4 C312.9,749.7 312.0,749.1 311.0,748.5 C310.0,747.8 309.1,747.1 308.1,746.5 C307.1,745.8 306.2,745.1 305.2,744.5 C304.3,743.8 303.3,743.1 302.3,742.5 C301.4,741.8 300.4,741.2 299.4,740.6 C298.4,739.9 297.4,739.4 296.4,738.8 C295.4,738.2 294.4,737.6 293.4,737.0 C292.4,736.4 291.3,735.9 290.3,735.3 C289.3,734.7 288.3,734.1 287.3,733.6 C286.2,733.0 285.2,732.4 284.2,731.9 C283.2,731.3 282.1,730.8 281.1,730.2 C280.1,729.7 279.1,729.2 278.0,728.6 C276.9,728.0 275.6,727.3 274.5,726.7 C273.4,726.1 272.4,725.6 271.4,725.1 C270.3,724.5 269.3,724.0 268.3,723.5 C267.2,722.9 266.2,722.4 265.1,721.9 C264.1,721.4 263.0,720.9 262.0,720.4 C260.9,719.9 259.9,719.4 258.8,718.9 C257.7,718.4 256.7,717.9 255.6,717.4 C254.6,716.9 253.5,716.4 252.4,715.9 C251.4,715.4 250.3,714.9 249.2,714.5 C248.2,714.0 247.1,713.5 246.1,713.0 C245.0,712.5 243.9,712.1 242.9,711.6 C241.8,711.1 240.8,710.5 239.7,710.0 C238.7,709.4 237.7,708.8 236.7,708.2 C235.7,707.6 234.7,707.0 233.7,706.4 C232.8,705.8 231.8,705.1 230.8,704.5 C229.8,703.9 228.8,703.2 227.9,702.5 C227.0,701.8 226.2,701.0 225.4,700.2 C224.6,699.3 223.9,698.4 223.2,697.5 C222.5,696.6 221.8,695.6 221.1,694.7 C220.5,693.7 219.9,692.7 219.5,691.7 C219.1,690.6 218.9,689.5 218.6,688.4 C218.4,687.3 218.3,686.1 218.2,685.0 C218.1,683.8 218.1,682.7 218.2,681.5 C218.3,680.3 218.7,678.9 219.1,677.7 C219.4,676.6 219.9,675.6 220.4,674.5 C220.9,673.5 221.5,672.5 222.1,671.5 C222.7,670.5 223.3,669.5 224.0,668.6 C224.7,667.7 225.4,666.7 226.2,665.8 C226.9,665.0 227.7,664.1 228.5,663.3 C229.4,662.5 230.3,661.7 231.2,661.0 C232.1,660.3 233.0,659.6 234.0,659.0 C234.9,658.3 235.9,657.6 236.9,657.0 C237.8,656.3 238.8,655.7 239.8,655.1 C240.8,654.4 241.8,653.8 242.8,653.2 C243.8,652.6 244.8,652.0 245.8,651.3 C246.7,650.7 247.7,650.1 248.7,649.5 C249.7,648.9 250.7,648.3 251.7,647.7 C252.7,647.1 253.7,646.5 254.7,645.9 C255.7,645.3 256.7,644.7 257.7,644.1 C258.7,643.5 259.7,642.9 260.7,642.3 C261.7,641.7 262.8,641.1 263.8,640.5 C264.8,639.9 265.8,639.3 266.8,638.7 C267.8,638.1 268.8,637.5 269.8,636.9 C270.8,636.3 271.8,635.6 272.8,635.0 C273.8,634.4 274.7,633.9 275.8,633.2 C276.8,632.6 278.1,631.8 279.2,631.2 C280.3,630.5 281.2,630.0 282.2,629.4 C283.2,628.8 284.2,628.2 285.2,627.6 C286.2,627.0 287.2,626.4 288.2,625.8 C289.2,625.2 290.2,624.6 291.2,624.0 C292.2,623.4 293.2,622.8 294.2,622.2 C295.2,621.5 296.2,621.0 297.2,620.3 C298.2,619.7 299.1,619.0 300.0,618.3 C301.0,617.6 301.8,616.8 302.7,616.0 C303.5,615.2 304.3,614.4 305.2,613.5 C306.0,612.7 306.8,611.9 307.6,611.1 C308.5,610.2 309.3,609.4 310.1,608.5 C310.8,607.7 311.6,606.8 312.3,605.9 C313.0,604.9 313.7,604.0 314.3,603.0 C315.0,602.0 315.6,601.1 316.3,600.1 C316.9,599.1 317.6,598.2 318.3,597.2 C319.0,596.3 319.7,595.4 320.4,594.5 C321.2,593.6 321.9,592.7 322.7,591.8 C323.4,590.9 324.2,590.0 325.0,589.2 C325.8,588.3 326.6,587.5 327.5,586.8 C328.4,586.1 329.4,585.4 330.3,584.8 C331.3,584.1 332.2,583.6 333.3,582.9 C334.4,582.2 335.6,581.4 336.7,580.8 C337.8,580.1 338.7,579.5 339.7,578.9 C340.7,578.3 341.7,577.7 342.7,577.1 C343.7,576.5 344.7,575.9 345.7,575.3 C346.7,574.7 347.7,574.1 348.7,573.5 C349.7,572.9 350.7,572.3 351.7,571.7 C352.7,571.1 353.7,570.5 354.7,569.9 C355.7,569.3 356.7,568.7 357.8,568.2 C358.8,567.6 359.8,567.1 360.8,566.5 C361.9,566.0 362.9,565.4 363.9,564.9 C365.0,564.3 366.0,563.8 367.0,563.2 C368.1,562.7 369.1,562.1 370.1,561.6 C371.1,561.0 372.1,560.4 373.1,559.8 C374.2,559.2 375.2,558.6 376.2,558.0 C377.2,557.4 378.2,556.8 379.2,556.2 C380.2,555.6 381.2,555.0 382.2,554.4 C383.2,553.8 384.2,553.2 385.2,552.6 C386.1,551.9 387.1,551.3 388.1,550.6 C389.0,549.9 389.9,549.2 390.9,548.5 C391.8,547.9 392.8,547.1 393.7,546.4 C394.6,545.7 395.6,545.0 396.5,544.3 C397.4,543.6 398.3,542.9 399.1,542.0 C399.9,541.2 400.6,540.4 401.4,539.4 C402.1,538.5 403.0,537.2 403.7,536.2 C404.3,535.1 404.9,534.2 405.4,533.2 C406.0,532.2 406.4,531.1 406.7,530.0 C407.0,528.9 407.2,527.8 407.4,526.6 C407.5,525.5 407.6,524.3 407.6,523.2 C407.7,522.0 407.7,520.8 407.7,519.7 C407.7,518.5 407.7,517.3 407.7,516.1 C407.7,515.0 407.7,513.8 407.7,512.6 C407.7,511.5 407.7,510.3 407.7,509.1 C407.7,508.0 407.7,506.8 407.7,505.6 C407.7,504.5 407.7,503.3 407.8,502.1 C407.8,501.0 407.8,499.8 407.8,498.6 C407.8,497.5 407.8,496.3 407.8,495.1 C407.8,493.9 407.8,492.8 407.8,491.6 C407.8,490.4 407.8,489.3 407.8,488.1 C407.8,486.9 407.8,485.8 407.8,484.6 C407.8,483.4 407.8,482.3 407.8,481.1 C407.8,479.9 407.8,478.8 407.8,477.6 C407.8,476.4 407.8,475.3 407.8,474.1 C407.8,472.9 407.8,471.7 407.8,470.6 C407.8,469.4 407.8,468.2 407.8,467.1 C407.8,465.9 407.8,464.8 407.8,463.6 C407.8,462.3 407.8,460.8 407.8,459.6 C407.8,458.3 407.8,457.2 407.8,456.1 C407.8,454.9 407.8,453.7 407.8,452.5 C407.8,451.4 407.8,450.2 407.8,449.0 C407.8,447.9 407.8,446.7 407.8,445.5 C407.8,444.4 407.8,443.2 407.8,442.0 C407.8,440.9 407.8,439.7 407.8,438.5 C407.8,437.4 407.8,436.2 407.8,435.0 C407.8,433.9 407.8,432.7 407.8,431.5 C407.8,430.3 407.8,429.2 407.8,428.0 C407.8,426.8 407.8,425.7 407.8,424.5 C407.8,423.3 407.8,421.6 407.8,421.0 Z" fill="#0000ff" fill-opacity="0.3" fill-rule="evenodd" stroke="#0000ff" stroke-opacity="0.3" stroke-width="0.6"/>
<path d="M76.0,421.0 C76.0,421.6 76.0,423.3 76.0,424.5 C76.0,425.7 76.0,426.8 76.0,428.0 C76.0,429.2 76.0,430.4 76.0,431.5 C76.0,432.7 76.0,433.8 76.0,435.0 C76.0,436.3 76.0,437.8 76.0,439.0 C76.0,440.3 76.0,441.4 76.0,442.5 C76.0,443.7 76.0,444.9 76.0,446.1 C76.0,447.2 76.0,448.4 76.0,449.6 C76.0,450.7 76.0,451.9 76.0,453.1 C76.0,454.2 76.0,455.4 76.0,456.6 C76.0,457.7 76.0,458.9 76.0,460.1 C76.0,461.3 76.0,462.3 76.0,463.6 C76.0,464.8 76.0,466.3 76.0,467.6 C76.0,468.9 76.0,469.9 76.0,471.1 C76.0,472.3 76.0,473.4 76.0,474.6 C76.0,475.8 76.0,477.0 76.0,478.1 C76.0,479.3 76.0,480.5 76.0,481.6 C76.0,482.8 76.0,484.0 76.0,485.1 C76.0,486.3 76.0,487.5 76.0,488.6 C76.0,489.8 76.0,491.0 76.0,492.2 C76.0,493.3 76.0,494.4 76.0,495.7 C76.0,496.9 76.0,498.4 76.0,499.7 C76.0,500.9 76.0,502.0 76.0,503.2 C76.0,504.3 76.0,505.5 76.0,506.7 C76.0,507.9 76.0,509.0 76.0,510.2 C76.0,511.4 76.0,512.5 76.0,513.7 C76.0,514.9 76.0,516.0 76.0,517.2 C76.0,518.4 76.0,519.5 76.0,520.7 C76.0,521.9 76.0,523.1 76.0,524.2 C76.0,525.4 76.0,526.5 76.0,527.7 C76.0,529.0 76.0,530.5 76.0,531.7 C76.0,533.0 76.0,534.1 76.0,535.2 C76.0,536.4 76.0,537.6 76.0,538.8 C76.0,539.9 76.0,541.1 76.0,542.3 C76.0,543.4 76.0,544.6 76.0,545.8 C76.0,546.9 76.0,548.1 76.0,549.3 C76.0,550.4 76.0,551.6 76.0,552.8 C76.0,554.0 76.0,555.0 76.0,556.3 C76.0,557.5 76.0,559.1 76.0,560.3 C76.1,561.6 76.1,562.6 76.1,563.8 C76.2,565.0 76.2,566.1 76.3,567.3 C76.3,568.5 76.4,569.6 76.4,570.8 C76.5,572.0 76.5,573.2 76.5,574.3 C76.6,575.5 76.6,576.7 76.7,577.8 C76.7,579.0 76.8,580.2 76.8,581.3 C76.9,582.5 76.9,583.7 77.0,584.8 C77.0,586.0 77.0,587.1 77.1,588.3 C77.2,589.6 77.2,591.1 77.3,592.3 C77.4,593.6 77.5,594.7 77.6,595.8 C77.7,597.0 77.9,598.2 78.0,599.3 C78.2,600.5 78.3,601.6 78.5,602.8 C78.7,604.0 78.8,605.1 79.0,606.3 C79.1,607.4 79.3,608.6 79.4,609.7 C79.6,610.9 79.7,612.1 79.9,613.2 C80.0,614.4 80.2,615.5 80.3,616.7 C80.5,617.9 80.7,619.4 80.9,620.7 C81.0,621.9 81.2,623.0 81.4,624.1 C81.6,625.3 81.8,626.4 82.0,627.6 C82.2,628.7 82.5,629.9 82.8,631.0 C83.1,632.1 83.5,633.2 83.8,634.4 C84.1,635.5 84.4,636.6 84.7,637.7 C85.1,638.9 85.4,640.0 85.7,641.1 C86.0,642.2 86.3,643.4 86.7,644.5 C87.0,645.6 87.3,646.7 87.6,647.8 C88.0,649.0 88.5,650.5 89.0,651.6 C89.4,652.8 89.8,653.8 90.3,654.9 C90.7,656.0 91.2,657.0 91.6,658.1 C92.1,659.2 92.6,660.3 93.0,661.3 C93.5,662.4 93.9,663.5 94.4,664.6 C94.8,665.7 95.2,666.7 95.7,667.8 C96.1,668.9 96.6,670.0 97.0,671.1 C97.5,672.1 97.9,673.1 98.4,674.3 C98.8,675.5 99.4,676.9 99.9,678.0 C100.4,679.1 100.9,680.1 101.3,681.2 C101.8,682.3 102.4,683.3 102.9,684.4 C103.4,685.4 103.9,686.4 104.4,687.5 C105.0,688.5 105.5,689.6 106.0,690.6 C106.5,691.7 107.1,692.7 107.6,693.8 C108.1,694.8 108.6,695.8 109.2,696.9 C109.7,697.9 110.2,699.0 110.8,700.0 C111.3,701.1 111.8,702.0 112.3,703.1 C112.9,704.3 113.6,705.6 114.2,706.7 C114.7,707.8 115.2,708.8 115.7,709.9 C116.2,710.9 116.8,712.0 117.3,713.0 C117.8,714.1 118.3,715.1 118.8,716.1 C119.4,717.2 119.9,718.2 120.4,719.3 C120.9,720.4 121.3,721.4 121.8,722.5 C122.2,723.6 122.6,724.7 123.0,725.8 C123.4,726.9 123.7,728.0 124.1,729.1 C124.5,730.2 124.8,731.2 125.2,732.4 C125.6,733.6 126.1,735.1 126.5,736.2 C126.9,737.4 127.2,738.5 127.6,739.6 C128.0,740.7 128.4,741.8 128.8,742.9 C129.1,744.0 129.5,745.1 129.9,746.2 C130.3,747.3 130.7,748.4 131.0,749.5 C131.4,750.6 131.8,751.7 132.1,752.8 C132.5,754.0 132.9,755.1 133.2,756.2 C133.6,757.3 133.9,758.3 134.3,759.5 C134.7,760.7 135.2,762.1 135.6,763.3 C136.0,764.5 136.4,765.5 136.9,766.6 C137.3,767.6 137.8,768.7 138.3,769.7 C138.8,770.8 139.4,771.8 139.9,772.9 C140.5,773.9 141.2,775.5 141.5,776.0 L180.5,776.0 C180.2,775.5 179.2,774.1 178.5,773.1 C177.8,772.2 177.1,771.2 176.4,770.3 C175.8,769.3 175.1,768.4 174.4,767.4 C173.7,766.5 173.1,765.6 172.5,764.5 C171.8,763.4 171.0,762.2 170.4,761.1 C169.7,760.0 169.2,759.1 168.7,758.0 C168.2,757.0 167.7,755.9 167.3,754.8 C166.9,753.7 166.5,752.6 166.2,751.5 C165.9,750.4 165.7,749.3 165.5,748.1 C165.3,747.0 165.2,745.8 165.1,744.6 C165.0,743.5 164.9,742.3 164.9,741.1 C164.9,740.0 164.9,738.8 164.9,737.6 C165.0,736.5 165.1,735.3 165.2,734.1 C165.3,733.0 165.4,731.9 165.6,730.7 C165.8,729.4 166.1,728.0 166.4,726.7 C166.6,725.5 166.9,724.5 167.1,723.3 C167.4,722.2 167.8,721.1 168.1,720.0 C168.5,718.8 168.9,717.7 169.2,716.6 C169.6,715.5 170.0,714.4 170.4,713.3 C170.8,712.2 171.3,711.2 171.7,710.1 C172.2,709.0 172.7,708.0 173.2,706.9 C173.8,705.9 174.3,704.8 174.8,703.8 C175.3,702.7 175.8,701.8 176.4,700.6 C176.9,699.5 177.6,698.2 178.1,697.0 C178.7,695.9 179.2,694.9 179.7,693.9 C180.2,692.8 180.7,691.8 181.2,690.7 C181.7,689.7 182.2,688.6 182.7,687.6 C183.2,686.5 183.7,685.5 184.2,684.4 C184.7,683.3 185.2,682.3 185.7,681.2 C186.1,680.1 186.6,679.0 187.0,678.0 C187.5,676.9 188.0,675.8 188.4,674.7 C188.9,673.7 189.3,672.7 189.8,671.5 C190.3,670.3 190.8,669.0 191.3,667.8 C191.8,666.6 192.2,665.6 192.6,664.5 C193.0,663.4 193.4,662.3 193.8,661.2 C194.2,660.1 194.6,659.0 195.0,657.9 C195.3,656.8 195.7,655.7 196.1,654.6 C196.5,653.5 196.9,652.4 197.3,651.3 C197.7,650.2 198.0,649.1 198.4,648.0 C198.7,646.8 199.0,645.7 199.3,644.6 C199.7,643.5 200.0,642.3 200.3,641.2 C200.6,640.1 200.9,639.0 201.3,637.8 C201.6,636.6 202.0,635.2 202.3,634.0 C202.6,632.8 202.9,631.7 203.1,630.6 C203.4,629.4 203.6,628.3 203.9,627.1 C204.1,626.0 204.3,624.8 204.6,623.7 C204.8,622.5 205.0,621.4 205.2,620.2 C205.4,619.1 205.7,617.9 205.9,616.8 C206.1,615.6 206.3,614.5 206.5,613.3 C206.7,612.2 206.9,611.0 207.0,609.9 C207.2,608.7 207.3,607.6 207.5,606.4 C207.6,605.2 207.8,603.7 207.9,602.4 C208.0,601.2 208.1,600.1 208.2,598.9 C208.4,597.8 208.5,596.6 208.6,595.4 C208.7,594.3 208.8,593.1 208.9,591.9 C209.0,590.8 209.1,589.6 209.2,588.4 C209.2,587.3 209.3,586.1 209.3,584.9 C209.3,583.8 209.3,582.6 209.4,581.4 C209.4,580.3 209.4,579.1 209.4,577.9 C209.5,576.7 209.5,575.7 209.5,574.4 C209.5,573.2 209.6,571.6 209.6,570.4 C209.6,569.1 209.6,568.1 209.7,566.9 C209.7,565.7 209.7,564.5 209.7,563.4 C209.7,562.2 209.7,561.0 209.7,559.9 C209.7,558.7 209.8,557.5 209.8,556.4 C209.8,555.2 209.8,554.0 209.8,552.9 C209.8,551.7 209.8,550.5 209.8,549.3 C209.8,548.2 209.8,547.0 209.9,545.8 C209.9,544.7 209.9,543.5 209.9,542.3 C209.9,541.2 209.9,540.1 209.9,538.8 C209.9,537.6 209.9,536.1 209.9,534.8 C209.9,533.5 210.0,532.5 210.0,531.3 C210.0,530.1 210.0,529.0 210.0,527.8 C210.0,526.6 210.0,525.4 210.0,524.3 C210.0,523.1 210.0,521.9 210.0,520.8 C210.0,519.6 210.0,518.4 210.1,517.3 C210.1,516.1 210.1,514.9 210.1,513.7 C210.1,512.6 210.1,511.4 210.1,510.2 C210.1,509.1 210.1,508.0 210.1,506.7 C210.1,505.5 210.1,504.0 210.1,502.7 C210.2,501.5 210.2,500.4 210.2,499.2 C210.2,498.0 210.2,496.9 210.2,495.7 C210.2,494.5 210.2,493.4 210.2,492.2 C210.2,491.0 210.2,489.9 210.2,488.7 C210.2,487.5 210.3,486.3 210.3,485.2 C210.3,484.0 210.3,482.8 210.3,481.7 C210.3,480.5 210.3,479.3 210.3,478.2 C210.3,477.0 210.3,475.9 210.3,474.6 C210.3,473.4 210.3,471.9 210.3,470.6 C210.3,469.4 210.3,468.3 210.3,467.1 C210.3,466.0 210.3,464.8 210.3,463.6 C210.3,462.4 210.3,461.3 210.3,460.1 C210.3,458.9 210.3,457.8 210.3,456.6 C210.3,455.4 210.3,454.3 210.3,453.1 C210.3,451.9 210.3,450.7 210.3,449.6 C210.3,448.4 210.3,447.2 210.3,446.1 C210.3,444.9 210.3,443.7 210.3,442.6 C210.3,441.4 210.3,440.3 210.3,439.0 C210.3,437.8 210.3,436.3 210.3,435.0 C210.3,433.8 210.3,432.7 210.3,431.5 C210.3,430.4 210.3,429.2 210.3,428.0 C210.3,426.8 210.3,425.7 210.3,424.5 C210.3,423.3 210.3,421.6 210.3,421.0 Z" fill="#ffa500" fill-opacity="0.3" fill-rule="evenodd" stroke="#ffa500" stroke-opacity="0.3" stroke-width="0.6"/>
<path d="M160.7,421.0 C160.7,421.6 160.7,423.3 160.7,424.5 C160.7,425.7 160.7,426.8 160.7,428.0 C160.7,429.2 160.7,430.4 160.7,431.5 C160.7,432.7 160.7,433.9 160.7,435.0 C160.7,436.2 160.7,437.4 160.7,438.5 C160.7,439.7 160.7,440.8 160.7,442.0 C160.7,443.3 160.7,444.8 160.7,446.1 C160.7,447.3 160.7,448.4 160.7,449.6 C160.7,450.7 160.7,451.9 160.7,453.1 C160.7,454.2 160.7,455.4 160.7,456.6 C160.7,457.8 160.7,458.9 160.7,460.1 C160.7,461.3 160.7,462.4 160.7,463.6 C160.7,464.8 160.7,465.9 160.7,467.1 C160.7,468.3 160.7,469.4 160.7,470.6 C160.7,471.8 160.7,473.0 160.7,474.1 C160.7,475.3 160.7,476.5 160.7,477.6 C160.7,478.8 160.7,480.0 160.7,481.1 C160.7,482.3 160.7,483.5 160.7,484.6 C160.7,485.8 160.7,487.0 160.7,488.2 C160.7,489.3 160.7,490.4 160.7,491.7 C160.7,492.9 160.7,494.4 160.7,495.7 C160.7,496.9 160.7,498.0 160.7,499.2 C160.7,500.4 160.7,501.5 160.7,502.7 C160.7,503.9 160.7,505.0 160.7,506.2 C160.7,507.4 160.7,508.5 160.7,509.7 C160.7,510.9 160.7,512.0 160.7,513.2 C160.7,514.4 160.7,515.6 160.7,516.7 C160.7,517.9 160.7,519.1 160.7,520.2 C160.7,521.4 160.7,522.6 160.7,523.7 C160.7,524.9 160.8,526.1 160.8,527.2 C160.8,528.4 160.9,529.6 160.9,530.8 C160.9,531.9 161.0,533.1 161.0,534.3 C161.1,535.4 161.1,536.5 161.2,537.8 C161.3,539.0 161.5,540.5 161.7,541.7 C161.9,543.0 162.1,544.0 162.4,545.2 C162.6,546.3 162.9,547.4 163.1,548.6 C163.4,549.7 163.7,550.9 164.0,552.0 C164.2,553.1 164.5,554.3 164.8,555.4 C165.1,556.5 165.4,557.7 165.7,558.8 C165.9,559.9 166.2,561.1 166.3,562.2 C166.5,563.4 166.6,564.5 166.7,565.7 C166.8,566.8 166.9,568.0 166.9,569.2 C166.9,570.3 166.9,571.5 166.8,572.7 C166.7,573.8 166.5,575.0 166.3,576.1 C166.1,577.3 165.9,578.4 165.7,579.6 C165.4,580.7 165.2,581.9 164.9,583.0 C164.6,584.1 164.3,585.2 163.9,586.3 C163.6,587.5 163.0,588.9 162.6,590.1 C162.2,591.3 161.8,592.3 161.4,593.4 C161.0,594.5 160.7,595.6 160.4,596.8 C160.1,597.9 159.8,599.0 159.5,600.2 C159.3,601.3 159.0,602.4 158.8,603.6 C158.6,604.7 158.5,605.9 158.3,607.1 C158.2,608.2 158.1,609.4 158.0,610.5 C157.9,611.7 157.9,612.9 157.9,614.0 C157.8,615.2 157.9,616.4 157.9,617.5 C157.9,618.7 157.9,619.9 157.9,621.0 C157.9,622.2 157.8,623.4 157.8,624.5 C157.7,625.7 157.6,626.9 157.6,628.1 C157.5,629.2 157.4,630.3 157.3,631.5 C157.2,632.8 157.1,634.3 156.9,635.5 C156.8,636.8 156.6,637.8 156.4,639.0 C156.2,640.1 155.9,641.3 155.6,642.4 C155.3,643.5 154.9,644.6 154.6,645.7 C154.2,646.8 153.8,647.9 153.3,649.0 C152.8,650.0 152.3,651.1 151.7,652.1 C151.2,653.1 150.5,654.1 149.9,655.1 C149.3,656.1 148.7,657.1 148.2,658.1 C147.7,659.2 147.2,660.2 146.8,661.3 C146.3,662.4 146.0,663.5 145.7,664.6 C145.3,665.7 145.0,666.8 144.8,668.0 C144.7,669.1 144.5,670.3 144.5,671.4 C144.5,672.6 144.5,673.7 144.6,674.9 C144.7,676.1 144.7,677.2 144.9,678.4 C145.1,679.6 145.3,681.1 145.6,682.3 C145.9,683.5 146.4,684.5 146.8,685.5 C147.2,686.6 147.7,687.7 148.2,688.7 C148.7,689.8 149.3,690.8 149.8,691.9 C150.4,692.9 151.0,693.9 151.6,694.9 C152.2,695.9 152.8,696.9 153.4,697.9 C154.1,698.8 154.7,699.8 155.4,700.8 C156.1,701.7 156.8,702.6 157.6,703.5 C158.3,704.4 159.1,705.2 159.8,706.2 C160.5,707.1 161.1,708.0 161.6,709.1 C162.1,710.1 162.5,711.2 162.9,712.3 C163.2,713.4 163.5,714.5 163.7,715.6 C163.9,716.8 164.1,717.9 164.2,719.1 C164.3,720.3 164.4,721.8 164.5,723.1 C164.7,724.3 164.7,725.4 164.8,726.6 C164.9,727.7 165.0,728.9 165.2,730.0 C165.4,731.2 165.6,732.3 166.0,733.4 C166.4,734.4 166.9,735.5 167.5,736.5 C168.1,737.4 168.8,738.3 169.6,739.2 C170.4,740.0 171.2,740.8 172.1,741.6 C173.0,742.4 173.9,743.1 174.8,743.9 C175.7,744.6 176.6,745.3 177.5,746.0 C178.5,746.7 179.4,747.4 180.4,748.1 C181.3,748.7 182.3,749.4 183.3,750.1 C184.2,750.8 185.2,751.5 186.1,752.2 C187.0,752.9 187.9,753.6 188.9,754.3 C189.8,755.0 190.6,755.7 191.6,756.5 C192.6,757.3 193.7,758.2 194.7,759.1 C195.6,759.9 196.4,760.7 197.2,761.5 C198.0,762.3 198.9,763.1 199.7,764.0 C200.4,764.8 201.2,765.7 201.9,766.6 C202.5,767.6 203.1,768.6 203.7,769.6 C204.2,770.6 204.7,771.7 205.2,772.8 C205.6,773.8 206.3,775.5 206.5,776.0 L378.0,776.0 C377.4,775.8 375.7,775.4 374.6,775.1 C373.5,774.8 372.4,774.5 371.2,774.2 C370.1,773.9 369.0,773.6 367.8,773.3 C366.7,773.0 365.6,772.7 364.4,772.4 C363.3,772.1 362.3,771.8 361.1,771.5 C359.8,771.2 358.4,770.8 357.2,770.5 C356.0,770.2 354.9,769.9 353.8,769.6 C352.7,769.3 351.5,769.0 350.4,768.6 C349.3,768.3 348.2,768.0 347.0,767.7 C345.9,767.4 344.8,767.1 343.7,766.7 C342.5,766.4 341.4,766.1 340.3,765.7 C339.2,765.4 338.1,765.1 337.0,764.7 C335.8,764.3 334.7,764.0 333.6,763.6 C332.5,763.2 331.4,762.8 330.3,762.5 C329.2,762.1 328.1,761.7 327.0,761.3 C325.9,760.9 324.8,760.4 323.8,760.0 C322.7,759.5 321.7,759.1 320.6,758.5 C319.4,758.0 318.1,757.3 317.0,756.7 C315.9,756.2 314.9,755.7 313.9,755.2 C312.8,754.6 311.8,754.1 310.8,753.5 C309.8,752.9 308.8,752.3 307.8,751.7 C306.8,751.1 305.8,750.5 304.8,749.9 C303.8,749.3 302.8,748.7 301.8,748.1 C300.8,747.5 299.8,746.9 298.8,746.3 C297.8,745.7 296.7,745.1 295.7,744.5 C294.7,743.9 293.7,743.3 292.7,742.7 C291.7,742.1 290.7,741.5 289.7,740.8 C288.7,740.2 287.8,739.7 286.7,739.0 C285.7,738.4 284.4,737.6 283.4,736.9 C282.3,736.1 281.5,735.5 280.6,734.8 C279.6,734.1 278.7,733.3 277.8,732.6 C276.9,731.9 276.0,731.1 275.1,730.4 C274.2,729.7 273.2,728.9 272.3,728.2 C271.4,727.5 270.5,726.8 269.6,726.0 C268.7,725.3 267.8,724.5 267.0,723.7 C266.1,722.9 265.2,722.1 264.4,721.3 C263.6,720.5 262.8,719.7 262.0,718.8 C261.1,718.0 260.3,717.1 259.6,716.3 C258.8,715.4 258.0,714.5 257.2,713.6 C256.5,712.7 255.8,711.9 255.0,710.9 C254.2,710.0 253.3,708.8 252.5,707.8 C251.8,706.8 251.2,705.9 250.6,704.9 C249.9,703.9 249.4,702.9 248.8,701.9 C248.2,700.9 247.6,699.9 247.1,698.8 C246.5,697.8 246.0,696.8 245.5,695.7 C245.0,694.7 244.6,693.6 244.3,692.5 C243.9,691.4 243.6,690.2 243.2,689.1 C242.9,688.0 242.6,686.9 242.2,685.8 C241.8,684.7 241.4,683.6 240.9,682.6 C240.4,681.5 239.8,680.5 239.3,679.5 C238.7,678.4 238.2,677.5 237.5,676.4 C236.9,675.3 236.1,674.1 235.4,673.0 C234.7,672.0 234.1,671.1 233.3,670.2 C232.6,669.3 231.8,668.5 231.0,667.6 C230.3,666.7 229.5,665.8 228.7,665.0 C227.9,664.1 227.2,663.2 226.4,662.3 C225.7,661.4 224.9,660.5 224.2,659.6 C223.4,658.7 222.7,657.8 221.9,656.9 C221.2,656.0 220.4,655.1 219.7,654.2 C219.0,653.3 218.3,652.4 217.6,651.4 C217.0,650.5 216.4,649.5 215.8,648.4 C215.2,647.4 214.7,646.4 214.2,645.3 C213.7,644.3 213.2,643.3 212.7,642.2 C212.2,641.0 211.7,639.6 211.4,638.4 C211.1,637.2 210.9,636.2 210.7,635.0 C210.5,633.9 210.3,632.7 210.1,631.6 C210.0,630.4 209.9,629.3 209.9,628.1 C209.8,626.9 209.9,625.8 210.0,624.6 C210.1,623.5 210.3,622.3 210.4,621.1 C210.5,620.0 210.7,618.8 210.9,617.7 C211.0,616.5 211.2,615.4 211.3,614.2 C211.5,613.0 211.7,611.9 211.9,610.7 C212.0,609.6 212.2,608.4 212.4,607.3 C212.6,606.1 212.7,604.9 212.9,603.8 C213.1,602.6 213.2,601.6 213.4,600.3 C213.5,599.1 213.7,597.6 213.9,596.3 C214.0,595.1 214.2,594.0 214.3,592.9 C214.5,591.7 214.7,590.6 214.9,589.4 C215.1,588.3 215.4,587.1 215.6,586.0 C215.9,584.9 216.2,583.7 216.5,582.6 C216.8,581.5 217.1,580.3 217.4,579.2 C217.8,578.1 218.2,577.0 218.6,575.9 C219.1,574.9 219.6,573.8 220.1,572.8 C220.6,571.7 221.1,570.7 221.6,569.6 C222.2,568.6 222.7,567.6 223.3,566.5 C223.9,565.5 224.5,564.6 225.1,563.5 C225.8,562.5 226.6,561.2 227.2,560.1 C227.9,559.1 228.5,558.2 229.1,557.2 C229.7,556.2 230.3,555.2 230.9,554.2 C231.6,553.2 232.2,552.2 232.8,551.2 C233.4,550.2 234.0,549.2 234.4,548.2 C234.9,547.1 235.3,546.0 235.6,544.9 C236.0,543.8 236.2,542.7 236.5,541.5 C236.8,540.4 237.0,539.3 237.3,538.1 C237.5,537.0 237.7,535.8 237.9,534.7 C238.0,533.5 238.2,532.3 238.3,531.2 C238.4,530.0 238.5,528.9 238.6,527.7 C238.6,526.5 238.7,525.4 238.8,524.2 C238.9,522.9 238.9,521.4 239.0,520.2 C239.0,518.9 239.0,517.9 239.0,516.7 C239.0,515.5 239.0,514.4 239.0,513.2 C239.0,512.0 239.0,510.8 239.0,509.7 C239.0,508.5 239.0,507.3 239.0,506.2 C239.0,505.0 239.0,503.8 239.0,502.7 C239.0,501.5 239.0,500.3 239.0,499.2 C239.0,498.0 239.0,496.8 239.0,495.6 C239.0,494.5 239.0,493.3 239.0,492.1 C239.0,491.0 239.0,489.8 239.0,488.6 C239.0,487.5 239.0,486.4 239.0,485.1 C239.0,483.9 239.0,482.4 239.0,481.1 C239.0,479.9 239.0,478.8 239.0,477.6 C239.0,476.4 239.0,475.3 239.0,474.1 C239.0,472.9 239.0,471.8 239.0,470.6 C239.0,469.4 239.0,468.3 239.0,467.1 C239.0,465.9 239.0,464.8 239.0,463.6 C239.0,462.4 239.0,461.2 239.0,460.1 C239.0,458.9 239.0,457.7 239.0,456.6 C239.0,455.4 239.0,454.2 239.0,453.1 C239.0,451.9 239.0,450.7 239.0,449.6 C239.0,448.4 239.0,447.2 239.0,446.0 C239.0,444.9 239.0,443.8 239.0,442.5 C239.0,441.3 239.0,439.8 239.0,438.5 C239.0,437.3 239.0,436.2 239.0,435.0 C239.0,433.9 239.0,432.7 239.0,431.5 C239.0,430.4 239.0,429.2 239.0,428.0 C239.0,426.8 239.0,425.7 239.0,424.5 C239.0,423.3 239.0,421.6 239.0,421.0 Z" fill="#008000" fill-opacity="0.3" fill-rule="evenodd" stroke="#008000" stroke-opacity="0.3" stroke-width="0.6"/>
<path d="M299.0,421.0 C299.0,421.6 299.0,423.3 299.0,424.5 C299.0,425.7 299.0,426.8 299.0,428.0 C299.0,429.2 299.0,430.4 299.0,431.5 C299.0,432.7 299.0,433.9 299.0,435.0 C299.0,436.2 299.0,437.4 299.0,438.5 C299.0,439.7 299.0,440.9 299.0,442.0 C299.0,443.2 299.0,444.4 299.0,445.5 C299.0,446.7 299.0,447.9 299.0,449.1 C299.0,450.2 299.0,451.4 299.0,452.6 C299.0,453.7 299.0,454.8 299.0,456.1 C299.0,457.3 299.0,458.8 299.0,460.1 C299.0,461.3 299.0,462.4 299.0,463.6 C299.0,464.7 299.0,465.9 299.0,467.1 C299.0,468.3 299.0,469.4 299.0,470.6 C299.0,471.8 299.0,472.9 299.0,474.1 C299.0,475.3 299.0,476.4 299.0,477.6 C299.0,478.8 299.0,479.9 299.0,481.1 C299.0,482.3 299.0,483.4 299.0,484.6 C299.0,485.8 299.0,487.0 299.0,488.1 C299.0,489.3 299.0,490.5 299.0,491.6 C299.0,492.8 299.0,494.0 299.0,495.1 C299.0,496.3 299.0,497.5 299.0,498.6 C299.0,499.8 299.0,501.0 299.0,502.1 C299.0,503.3 299.0,504.5 299.0,505.7 C299.0,506.8 299.0,508.0 299.0,509.2 C299.0,510.3 299.0,511.5 299.0,512.7 C299.0,513.8 299.0,515.0 299.0,516.2 C299.0,517.3 299.0,518.5 299.0,519.7 C299.0,520.8 298.9,522.0 298.9,523.2 C298.8,524.4 298.8,525.5 298.7,526.7 C298.6,527.9 298.6,528.9 298.5,530.2 C298.3,531.4 298.2,532.9 298.0,534.1 C297.7,535.4 297.5,536.4 297.2,537.5 C296.9,538.7 296.6,539.8 296.2,540.9 C295.9,542.0 295.5,543.1 295.1,544.2 C294.7,545.3 294.2,546.4 293.7,547.4 C293.2,548.4 292.6,549.4 292.0,550.5 C291.5,551.5 290.9,552.5 290.3,553.5 C289.7,554.5 289.1,555.5 288.5,556.5 C287.8,557.4 287.1,558.4 286.4,559.2 C285.6,560.1 284.8,560.9 283.9,561.7 C283.1,562.6 282.2,563.3 281.4,564.1 C280.5,564.9 279.7,565.7 278.8,566.5 C277.9,567.3 277.1,568.1 276.2,568.9 C275.3,569.6 274.4,570.4 273.6,571.2 C272.7,571.9 271.8,572.7 270.9,573.4 C270.0,574.2 269.1,574.9 268.2,575.7 C267.3,576.4 266.4,577.2 265.5,577.9 C264.6,578.7 263.7,579.4 262.8,580.2 C261.9,580.9 261.0,581.6 260.1,582.4 C259.2,583.1 258.3,583.9 257.4,584.6 C256.5,585.4 255.6,586.1 254.7,586.9 C253.8,587.6 253.0,588.3 252.0,589.1 C251.1,590.0 250.0,591.0 249.0,591.8 C248.1,592.7 247.3,593.4 246.5,594.2 C245.6,595.0 244.7,595.8 243.9,596.6 C243.0,597.4 242.2,598.2 241.3,599.0 C240.5,599.8 239.6,600.6 238.8,601.4 C238.0,602.2 237.2,603.0 236.3,603.9 C235.5,604.7 234.7,605.5 233.9,606.4 C233.0,607.2 232.2,608.0 231.4,608.9 C230.7,609.8 229.9,610.6 229.1,611.5 C228.4,612.4 227.6,613.3 226.9,614.2 C226.1,615.1 225.4,616.0 224.7,616.9 C223.9,617.8 223.2,618.7 222.4,619.7 C221.7,620.6 221.0,621.5 220.3,622.4 C219.6,623.3 218.9,624.3 218.2,625.2 C217.4,626.1 216.7,627.1 216.0,628.0 C215.3,628.9 214.6,629.9 213.9,630.8 C213.2,631.7 212.5,632.7 211.8,633.6 C211.1,634.5 210.4,635.5 209.7,636.4 C209.0,637.3 208.3,638.3 207.6,639.2 C206.9,640.1 206.2,641.1 205.5,642.0 C204.8,642.9 204.1,643.8 203.4,644.8 C202.6,645.8 201.8,647.0 201.0,648.0 C200.3,649.0 199.6,649.9 198.9,650.9 C198.2,651.8 197.5,652.7 196.9,653.7 C196.2,654.7 195.6,655.6 195.0,656.6 C194.4,657.6 193.9,658.7 193.4,659.7 C192.9,660.8 192.4,661.8 191.9,662.9 C191.4,664.0 191.0,665.1 190.6,666.2 C190.3,667.3 190.0,668.4 189.7,669.5 C189.4,670.6 189.1,671.8 188.9,672.9 C188.7,674.1 188.5,675.2 188.4,676.4 C188.3,677.5 188.3,678.7 188.3,679.8 C188.3,681.0 188.4,682.2 188.6,683.3 C188.7,684.5 188.9,685.6 189.1,686.8 C189.3,687.9 189.7,689.0 190.0,690.1 C190.4,691.2 190.8,692.3 191.2,693.4 C191.6,694.5 192.0,695.6 192.5,696.7 C192.9,697.7 193.4,698.8 193.9,699.8 C194.5,700.9 195.0,701.9 195.5,703.0 C196.0,704.0 196.6,705.1 197.1,706.1 C197.6,707.1 198.1,708.2 198.7,709.2 C199.2,710.3 199.7,711.3 200.3,712.3 C200.9,713.3 201.4,714.3 202.1,715.3 C202.8,716.4 203.6,717.7 204.3,718.7 C205.0,719.7 205.6,720.7 206.2,721.6 C206.9,722.6 207.5,723.5 208.2,724.5 C208.9,725.4 209.7,726.3 210.4,727.2 C211.1,728.2 211.9,729.0 212.6,729.9 C213.4,730.8 214.1,731.7 214.9,732.6 C215.7,733.5 216.4,734.4 217.2,735.2 C218.0,736.1 218.9,736.9 219.7,737.6 C220.6,738.4 221.5,739.2 222.4,739.9 C223.3,740.7 224.2,741.4 225.1,742.2 C226.0,742.9 226.9,743.7 227.8,744.4 C228.7,745.1 229.7,745.8 230.6,746.5 C231.6,747.1 232.5,747.8 233.5,748.4 C234.5,749.1 235.5,749.7 236.5,750.3 C237.4,751.0 238.4,751.6 239.4,752.2 C240.4,752.8 241.4,753.5 242.4,754.0 C243.4,754.6 244.5,755.2 245.5,755.7 C246.5,756.3 247.6,756.8 248.6,757.3 C249.7,757.8 250.7,758.3 251.8,758.8 C252.8,759.4 253.9,759.9 254.9,760.4 C256.0,760.9 256.9,761.3 258.1,761.8 C259.2,762.3 260.7,762.9 261.8,763.3 C263.0,763.7 264.0,764.1 265.1,764.5 C266.2,764.9 267.3,765.3 268.4,765.7 C269.5,766.1 270.6,766.5 271.7,766.9 C272.8,767.3 273.9,767.8 275.0,768.2 C276.0,768.6 277.1,769.1 278.2,769.5 C279.3,769.9 280.4,770.4 281.5,770.8 C282.6,771.2 283.6,771.7 284.7,772.1 C285.8,772.5 286.9,773.0 288.0,773.4 C289.1,773.8 290.2,774.3 291.2,774.7 C292.3,775.1 294.0,775.8 294.5,776.0" fill="none" stroke="#0000ff" stroke-width="1.7" stroke-linejoin="round"/>
<path d="M142.6,421.0 C142.6,421.6 142.6,423.3 142.6,424.5 C142.6,425.7 142.6,426.8 142.6,428.0 C142.6,429.2 142.6,430.4 142.6,431.5 C142.6,432.7 142.6,433.9 142.6,435.0 C142.6,436.2 142.6,437.3 142.6,438.5 C142.6,439.8 142.6,441.3 142.6,442.5 C142.6,443.8 142.6,444.9 142.6,446.0 C142.6,447.2 142.6,448.4 142.6,449.6 C142.6,450.7 142.6,451.9 142.6,453.1 C142.6,454.2 142.6,455.4 142.6,456.6 C142.6,457.7 142.6,458.9 142.6,460.1 C142.6,461.2 142.6,462.4 142.6,463.6 C142.6,464.7 142.6,465.9 142.6,467.1 C142.6,468.3 142.6,469.4 142.6,470.6 C142.6,471.8 142.6,472.8 142.6,474.1 C142.6,475.3 142.6,476.9 142.6,478.1 C142.6,479.4 142.6,480.4 142.6,481.6 C142.6,482.8 142.6,483.9 142.6,485.1 C142.6,486.3 142.6,487.5 142.6,488.6 C142.6,489.8 142.6,491.0 142.6,492.1 C142.6,493.3 142.6,494.5 142.6,495.6 C142.6,496.8 142.6,498.0 142.6,499.1 C142.6,500.3 142.6,501.5 142.6,502.6 C142.6,503.8 142.6,505.0 142.6,506.2 C142.6,507.3 142.6,508.4 142.6,509.7 C142.6,510.9 142.6,512.4 142.6,513.7 C142.6,514.9 142.6,516.0 142.6,517.2 C142.6,518.3 142.6,519.5 142.6,520.7 C142.6,521.8 142.6,523.0 142.6,524.2 C142.6,525.4 142.6,526.5 142.6,527.7 C142.6,528.9 142.6,530.0 142.6,531.2 C142.6,532.4 142.6,533.5 142.6,534.7 C142.6,535.9 142.6,537.0 142.6,538.2 C142.6,539.4 142.6,540.6 142.6,541.7 C142.6,542.9 142.6,544.0 142.6,545.2 C142.6,546.5 142.6,548.0 142.6,549.2 C142.6,550.5 142.6,551.6 142.6,552.7 C142.6,553.9 142.6,555.1 142.6,556.2 C142.6,557.4 142.6,558.6 142.6,559.8 C142.6,560.9 142.6,562.1 142.6,563.3 C142.6,564.4 142.6,565.6 142.6,566.8 C142.6,567.9 142.6,569.1 142.6,570.3 C142.6,571.4 142.6,572.6 142.6,573.8 C142.6,574.9 142.6,576.1 142.6,577.3 C142.6,578.5 142.6,579.5 142.6,580.8 C142.6,582.0 142.6,583.5 142.6,584.8 C142.6,586.0 142.6,587.1 142.6,588.3 C142.6,589.5 142.6,590.6 142.6,591.8 C142.6,593.0 142.6,594.1 142.6,595.3 C142.6,596.5 142.6,597.7 142.6,598.8 C142.6,600.0 142.6,601.2 142.6,602.3 C142.6,603.5 142.6,604.7 142.6,605.8 C142.6,607.0 142.6,608.2 142.6,609.3 C142.6,610.5 142.6,611.7 142.6,612.8 C142.6,614.0 142.6,615.1 142.6,616.4 C142.6,617.6 142.6,619.1 142.6,620.4 C142.6,621.6 142.6,622.7 142.6,623.9 C142.6,625.0 142.6,626.2 142.6,627.4 C142.6,628.5 142.6,629.7 142.6,630.9 C142.6,632.1 142.6,633.2 142.6,634.4 C142.6,635.6 142.6,636.7 142.6,637.9 C142.6,639.1 142.6,640.2 142.6,641.4 C142.6,642.6 142.6,643.7 142.6,644.9 C142.6,646.1 142.6,647.2 142.6,648.4 C142.6,649.6 142.6,650.7 142.6,651.9 C142.6,653.2 142.6,654.7 142.6,655.9 C142.6,657.2 142.6,658.3 142.6,659.4 C142.6,660.6 142.6,661.8 142.6,662.9 C142.6,664.1 142.6,665.3 142.6,666.4 C142.6,667.6 142.6,668.8 142.6,670.0 C142.6,671.1 142.6,672.3 142.6,673.5 C142.6,674.6 142.6,675.8 142.6,677.0 C142.6,678.1 142.6,679.3 142.6,680.5 C142.6,681.6 142.6,682.8 142.6,684.0 C142.6,685.1 142.6,686.2 142.6,687.5 C142.6,688.7 142.6,690.2 142.6,691.5 C142.6,692.7 142.6,693.8 142.6,695.0 C142.6,696.2 142.6,697.3 142.6,698.5 C142.6,699.7 142.6,700.8 142.7,702.0 C142.7,703.2 142.7,704.3 142.7,705.5 C142.7,706.7 142.8,707.9 142.8,709.0 C142.8,710.2 142.8,711.4 142.9,712.5 C142.9,713.7 142.9,714.9 143.0,716.0 C143.0,717.2 143.0,718.4 143.1,719.5 C143.2,720.7 143.2,721.8 143.3,723.0 C143.4,724.3 143.5,725.8 143.6,727.0 C143.7,728.3 143.8,729.4 143.9,730.5 C144.0,731.7 144.1,732.9 144.2,734.0 C144.3,735.2 144.5,736.3 144.7,737.5 C144.8,738.6 145.1,739.8 145.3,740.9 C145.5,742.1 145.8,743.2 146.0,744.4 C146.3,745.5 146.5,746.6 146.8,747.8 C147.1,748.9 147.5,750.0 147.9,751.1 C148.3,752.2 148.7,753.3 149.1,754.4 C149.6,755.4 150.0,756.4 150.5,757.6 C151.0,758.7 151.6,760.1 152.2,761.2 C152.7,762.3 153.2,763.3 153.8,764.3 C154.4,765.3 154.9,766.4 155.5,767.4 C156.2,768.3 156.8,769.3 157.4,770.3 C158.1,771.3 158.8,772.2 159.5,773.1 C160.1,774.1 161.2,775.5 161.5,776.0" fill="none" stroke="#ffa500" stroke-width="1.7" stroke-linejoin="round"/>
<path d="M199.0,421.0 C199.0,421.6 199.0,423.3 199.0,424.5 C199.0,425.7 199.0,426.8 199.0,428.0 C199.0,429.2 199.0,430.3 199.0,431.5 C199.0,432.7 199.0,433.9 199.0,435.0 C199.0,436.2 199.0,437.4 199.0,438.5 C199.0,439.7 199.0,440.8 199.0,442.0 C199.0,443.3 199.0,444.8 199.0,446.0 C199.0,447.3 199.0,448.4 199.0,449.5 C199.0,450.7 199.0,451.9 199.0,453.1 C199.0,454.2 199.0,455.4 199.0,456.6 C199.0,457.7 199.0,458.9 199.0,460.1 C199.0,461.2 199.0,462.4 199.0,463.6 C199.0,464.7 199.0,465.9 199.0,467.1 C199.0,468.2 199.0,469.4 199.0,470.6 C199.0,471.8 199.0,472.9 199.0,474.1 C199.0,475.3 199.0,476.4 199.0,477.6 C199.0,478.8 199.0,479.9 199.0,481.1 C199.0,482.3 199.0,483.4 199.0,484.6 C199.0,485.8 199.0,486.9 199.0,488.1 C199.0,489.4 199.0,490.9 199.0,492.1 C199.0,493.4 199.0,494.5 199.0,495.6 C199.0,496.8 199.0,498.0 199.0,499.1 C199.0,500.3 199.0,501.5 199.0,502.6 C199.0,503.8 199.0,505.0 199.0,506.1 C199.0,507.3 199.0,508.5 199.0,509.7 C199.0,510.8 199.0,512.0 199.0,513.2 C199.0,514.3 199.0,515.5 199.0,516.7 C199.0,517.8 199.0,519.0 199.0,520.2 C199.0,521.3 199.0,522.5 199.0,523.7 C199.0,524.8 198.9,526.0 198.9,527.2 C198.9,528.4 198.9,529.4 198.9,530.7 C198.8,531.9 198.8,533.4 198.8,534.7 C198.7,535.9 198.7,537.0 198.7,538.2 C198.6,539.4 198.6,540.5 198.5,541.7 C198.5,542.9 198.4,544.0 198.4,545.2 C198.3,546.4 198.3,547.5 198.2,548.7 C198.1,549.9 198.1,551.0 197.9,552.2 C197.8,553.3 197.6,554.5 197.4,555.6 C197.2,556.8 196.9,557.9 196.7,559.1 C196.4,560.2 196.2,561.4 195.9,562.5 C195.7,563.6 195.4,564.8 195.1,565.9 C194.9,567.0 194.6,568.2 194.3,569.3 C194.0,570.4 193.6,571.6 193.3,572.7 C193.0,573.8 192.7,574.8 192.3,576.1 C192.0,577.3 191.6,578.7 191.2,579.9 C190.9,581.1 190.6,582.1 190.3,583.3 C189.9,584.4 189.6,585.5 189.3,586.6 C189.0,587.8 188.7,588.9 188.4,590.0 C188.0,591.1 187.7,592.3 187.4,593.4 C187.1,594.5 186.8,595.7 186.6,596.8 C186.3,597.9 186.1,599.1 185.9,600.2 C185.7,601.4 185.5,602.5 185.3,603.7 C185.1,604.8 184.9,606.0 184.8,607.1 C184.6,608.3 184.4,609.5 184.2,610.6 C184.1,611.8 184.0,612.9 183.8,614.1 C183.7,615.3 183.6,616.4 183.5,617.6 C183.5,618.7 183.4,619.8 183.3,621.1 C183.3,622.3 183.3,623.8 183.3,625.1 C183.4,626.3 183.4,627.4 183.5,628.6 C183.6,629.7 183.7,630.9 183.8,632.1 C183.9,633.2 184.0,634.4 184.1,635.6 C184.2,636.7 184.3,637.9 184.4,639.0 C184.6,640.2 184.7,641.4 184.8,642.5 C184.9,643.7 185.1,644.9 185.2,646.0 C185.3,647.2 185.5,648.3 185.7,649.5 C185.8,650.6 186.0,651.8 186.1,653.0 C186.3,654.1 186.5,655.3 186.6,656.4 C186.8,657.6 187.0,658.7 187.2,659.9 C187.3,661.1 187.5,662.2 187.7,663.4 C187.9,664.5 188.1,665.6 188.3,666.8 C188.5,668.1 188.8,669.5 189.1,670.8 C189.3,672.0 189.6,673.0 189.8,674.2 C190.1,675.3 190.4,676.4 190.7,677.6 C191.0,678.7 191.3,679.8 191.6,680.9 C192.0,682.0 192.4,683.1 192.9,684.2 C193.3,685.3 193.8,686.3 194.3,687.4 C194.8,688.4 195.4,689.5 195.9,690.5 C196.5,691.5 197.0,692.5 197.6,693.5 C198.2,694.5 198.9,695.5 199.5,696.5 C200.1,697.5 200.7,698.5 201.3,699.5 C201.9,700.5 202.5,701.5 203.1,702.5 C203.7,703.5 204.3,704.5 204.9,705.5 C205.5,706.5 206.0,707.5 206.7,708.6 C207.3,709.6 208.1,710.9 208.8,712.0 C209.4,713.0 210.0,713.9 210.7,714.9 C211.3,715.9 212.0,716.9 212.6,717.8 C213.3,718.8 213.9,719.8 214.6,720.7 C215.2,721.7 215.9,722.7 216.6,723.6 C217.2,724.6 217.9,725.5 218.6,726.5 C219.3,727.4 220.0,728.4 220.7,729.3 C221.4,730.2 222.1,731.2 222.8,732.0 C223.6,732.9 224.4,733.8 225.2,734.6 C226.0,735.5 226.9,736.2 227.7,737.0 C228.6,737.8 229.5,738.6 230.3,739.4 C231.2,740.2 232.0,740.9 233.0,741.7 C233.9,742.5 235.1,743.4 236.1,744.2 C237.1,744.9 238.0,745.6 238.9,746.3 C239.8,747.0 240.8,747.7 241.7,748.4 C242.7,749.1 243.6,749.7 244.6,750.4 C245.6,751.0 246.6,751.6 247.6,752.2 C248.6,752.8 249.6,753.4 250.6,754.0 C251.6,754.5 252.6,755.1 253.7,755.7 C254.7,756.3 255.7,756.8 256.7,757.4 C257.7,758.0 258.8,758.5 259.8,759.0 C260.9,759.6 261.9,760.1 262.9,760.6 C264.0,761.2 265.0,761.7 266.1,762.2 C267.1,762.7 268.2,763.3 269.2,763.8 C270.2,764.3 271.2,764.8 272.3,765.4 C273.5,765.9 274.8,766.6 275.9,767.1 C277.0,767.7 278.0,768.2 279.1,768.7 C280.1,769.2 281.2,769.7 282.2,770.2 C283.3,770.7 284.4,771.2 285.4,771.7 C286.5,772.2 287.5,772.7 288.6,773.1 C289.7,773.6 290.7,774.1 291.8,774.6 C292.9,775.1 294.5,775.8 295.0,776.0" fill="none" stroke="#008000" stroke-width="1.7" stroke-linejoin="round"/>
</g>
<rect x="55.05" y="419.1" width="469.00" height="355.75" fill="none" stroke="#5e5e5e" stroke-width="1.45"/>
<g class="tx">
<line x1="70.74" y1="774.85" x2="70.74" y2="778.45" stroke="#6a6a6a" stroke-width="1"/>
<text x="70.74" y="791.35" text-anchor="middle" font-size="11.6" textLength="7.2" lengthAdjust="spacingAndGlyphs">0</text>
<line x1="124.02" y1="774.85" x2="124.02" y2="778.45" stroke="#6a6a6a" stroke-width="1"/>
<text x="124.02" y="791.35" text-anchor="middle" font-size="11.6" textLength="21.8" lengthAdjust="spacingAndGlyphs">200</text>
<line x1="177.3" y1="774.85" x2="177.3" y2="778.45" stroke="#6a6a6a" stroke-width="1"/>
<text x="177.3" y="791.35" text-anchor="middle" font-size="11.6" textLength="21.8" lengthAdjust="spacingAndGlyphs">400</text>
<line x1="230.57999999999998" y1="774.85" x2="230.57999999999998" y2="778.45" stroke="#6a6a6a" stroke-width="1"/>
<text x="230.57999999999998" y="791.35" text-anchor="middle" font-size="11.6" textLength="21.8" lengthAdjust="spacingAndGlyphs">600</text>
<line x1="283.86" y1="774.85" x2="283.86" y2="778.45" stroke="#6a6a6a" stroke-width="1"/>
<text x="283.86" y="791.35" text-anchor="middle" font-size="11.6" textLength="21.8" lengthAdjust="spacingAndGlyphs">800</text>
<line x1="337.14" y1="774.85" x2="337.14" y2="778.45" stroke="#6a6a6a" stroke-width="1"/>
<text x="337.14" y="791.35" text-anchor="middle" font-size="11.6" textLength="29.0" lengthAdjust="spacingAndGlyphs">1000</text>
<line x1="390.42" y1="774.85" x2="390.42" y2="778.45" stroke="#6a6a6a" stroke-width="1"/>
<text x="390.42" y="791.35" text-anchor="middle" font-size="11.6" textLength="29.0" lengthAdjust="spacingAndGlyphs">1200</text>
<line x1="443.70000000000005" y1="774.85" x2="443.70000000000005" y2="778.45" stroke="#6a6a6a" stroke-width="1"/>
<text x="443.70000000000005" y="791.35" text-anchor="middle" font-size="11.6" textLength="29.0" lengthAdjust="spacingAndGlyphs">1400</text>
<line x1="496.98" y1="774.85" x2="496.98" y2="778.45" stroke="#6a6a6a" stroke-width="1"/>
<text x="496.98" y="791.35" text-anchor="middle" font-size="11.6" textLength="29.0" lengthAdjust="spacingAndGlyphs">1600</text>
<line x1="51.449999999999996" y1="419.1" x2="55.05" y2="419.1" stroke="#6a6a6a" stroke-width="1"/>
<text x="35.4" y="424.7" text-anchor="end" font-size="11.6" textLength="15.0" lengthAdjust="spacingAndGlyphs">10</text>
<text x="47.4" y="419.9" text-anchor="end" font-size="8.2" textLength="11.4" lengthAdjust="spacingAndGlyphs">−5</text>
<line x1="51.449999999999996" y1="483.7818181818182" x2="55.05" y2="483.7818181818182" stroke="#6a6a6a" stroke-width="1"/>
<text x="35.4" y="489.4" text-anchor="end" font-size="11.6" textLength="15.0" lengthAdjust="spacingAndGlyphs">10</text>
<text x="47.4" y="484.6" text-anchor="end" font-size="8.2" textLength="11.4" lengthAdjust="spacingAndGlyphs">−3</text>
<line x1="51.449999999999996" y1="548.4636363636364" x2="55.05" y2="548.4636363636364" stroke="#6a6a6a" stroke-width="1"/>
<text x="35.4" y="554.1" text-anchor="end" font-size="11.6" textLength="15.0" lengthAdjust="spacingAndGlyphs">10</text>
<text x="47.4" y="549.3" text-anchor="end" font-size="8.2" textLength="11.4" lengthAdjust="spacingAndGlyphs">−1</text>
<line x1="51.449999999999996" y1="613.1454545454546" x2="55.05" y2="613.1454545454546" stroke="#6a6a6a" stroke-width="1"/>
<text x="41.4" y="618.7" text-anchor="end" font-size="11.6" textLength="15.0" lengthAdjust="spacingAndGlyphs">10</text>
<text x="47.4" y="613.9" text-anchor="end" font-size="8.2" textLength="5.4" lengthAdjust="spacingAndGlyphs">1</text>
<line x1="51.449999999999996" y1="677.8272727272728" x2="55.05" y2="677.8272727272728" stroke="#6a6a6a" stroke-width="1"/>
<text x="41.4" y="683.4" text-anchor="end" font-size="11.6" textLength="15.0" lengthAdjust="spacingAndGlyphs">10</text>
<text x="47.4" y="678.6" text-anchor="end" font-size="8.2" textLength="5.4" lengthAdjust="spacingAndGlyphs">3</text>
<line x1="51.449999999999996" y1="742.5090909090909" x2="55.05" y2="742.5090909090909" stroke="#6a6a6a" stroke-width="1"/>
<text x="41.4" y="748.1" text-anchor="end" font-size="11.6" textLength="15.0" lengthAdjust="spacingAndGlyphs">10</text>
<text x="47.4" y="743.3" text-anchor="end" font-size="8.2" textLength="5.4" lengthAdjust="spacingAndGlyphs">5</text>
<text x="288.9" y="808.7" text-anchor="middle" font-size="14.6" textLength="115.6" lengthAdjust="spacingAndGlyphs">Temperature (K)</text>
<text transform="translate(12.4,598.0) rotate(-90)" text-anchor="middle" font-size="14.6" textLength="91" lengthAdjust="spacingAndGlyphs">Pressure (Pa)</text>
<rect x="347.7" y="422.3" width="169.6" height="46.5" rx="2" ry="2" fill="#ffffff" fill-opacity="0.8" stroke="#cccccc" stroke-opacity="0.8" stroke-width="0.8"/>
<rect x="351.3" y="428.5" width="19.4" height="6.8" fill="#0000ff" fill-opacity="0.3" stroke="#0000ff" stroke-opacity="0.3" stroke-width="0.6"/>
<text x="377.6" y="435.6" font-size="10.2" textLength="122" lengthAdjust="spacingAndGlyphs">2-Faces free T-p (coupled)</text>
<rect x="351.3" y="442.6" width="19.4" height="6.8" fill="#ffa500" fill-opacity="0.3" stroke="#ffa500" stroke-opacity="0.3" stroke-width="0.6"/>
<text x="377.6" y="449.7" font-size="10.2" textLength="134.3" lengthAdjust="spacingAndGlyphs">2-Faces Guillot T-p (coupled)</text>
<rect x="351.3" y="456.6" width="19.4" height="6.8" fill="#008000" fill-opacity="0.3" stroke="#008000" stroke-opacity="0.3" stroke-width="0.6"/>
<text x="377.6" y="463.7" font-size="10.2" textLength="137.7" lengthAdjust="spacingAndGlyphs">2-Faces free T-p (de-coupled)</text>
</g>
</svg>
</body></html>
